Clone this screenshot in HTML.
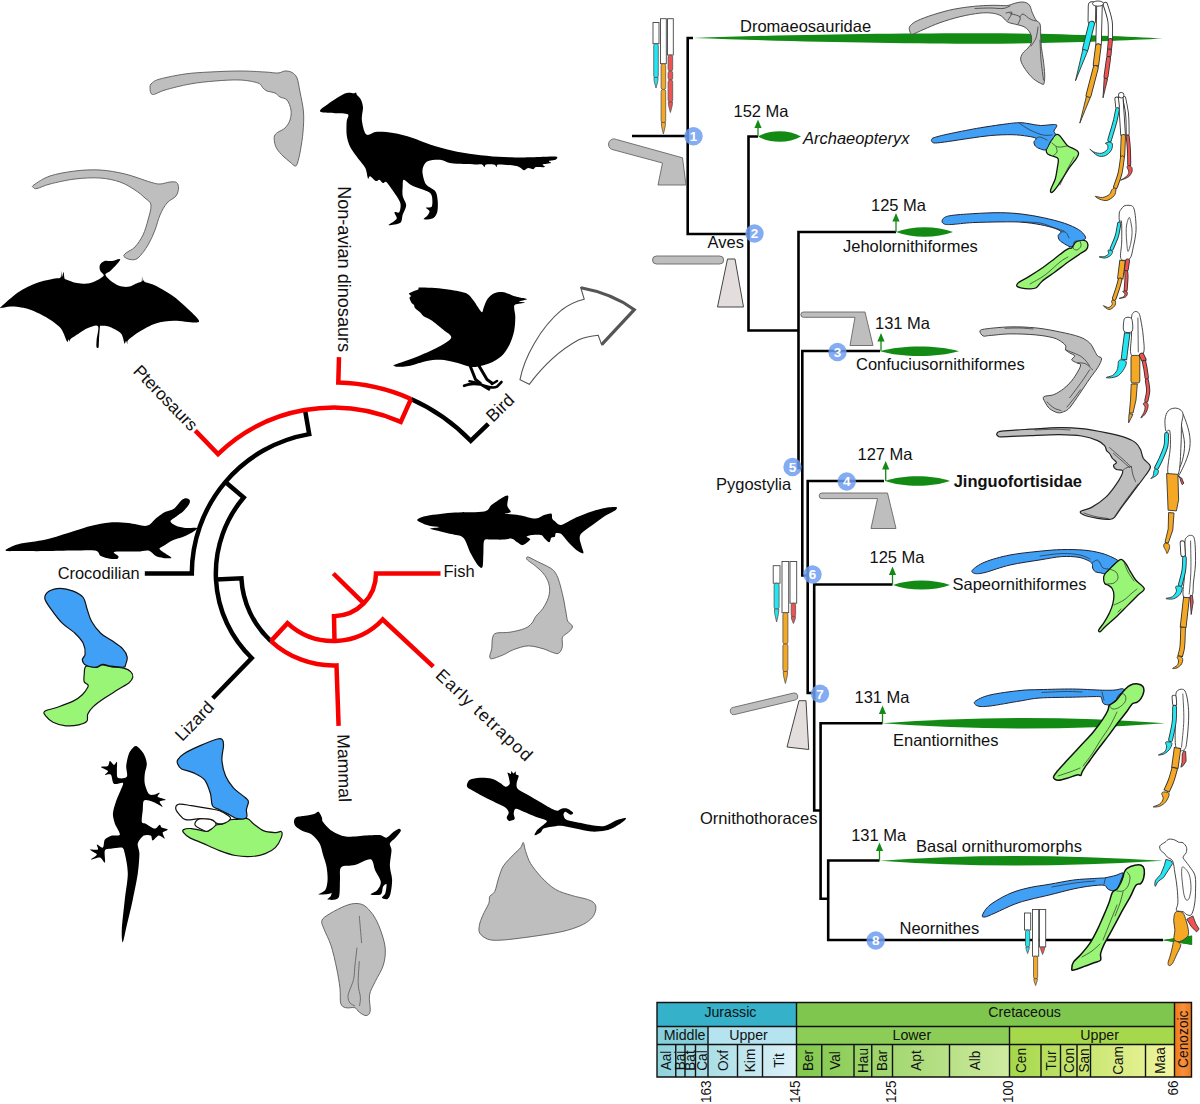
<!DOCTYPE html><html><head><meta charset="utf-8"><title>Figure</title>
<style>html,body{margin:0;padding:0;background:#fff}svg{display:block}text{font-family:"Liberation Sans",Arial,sans-serif;fill:#111}</style></head><body>
<svg width="1200" height="1104" viewBox="0 0 1200 1104">
<rect width="1200" height="1104" fill="#fff"/>
<g id="timescale">
<defs><linearGradient id="gJ" x1="0" x2="1"><stop offset="0" stop-color="#8ED3DC"/><stop offset="1" stop-color="#DDF1F8"/></linearGradient><linearGradient id="gKl" x1="0" x2="1"><stop offset="0" stop-color="#80C84C"/><stop offset="1" stop-color="#CFEBA0"/></linearGradient><linearGradient id="gKu" x1="0" x2="1"><stop offset="0" stop-color="#A4D84A"/><stop offset="1" stop-color="#F2F6A0"/></linearGradient><linearGradient id="gC" x1="0" x2="1"><stop offset="0" stop-color="#F07A10"/><stop offset="0.5" stop-color="#F79040"/><stop offset="1" stop-color="#EE7A18"/></linearGradient></defs>
<rect x="657" y="1002.5" width="139.5" height="24.0" fill="#35B2CA"/>
<rect x="796.5" y="1002.5" width="378.0" height="24.0" fill="#7FC64E"/>
<rect x="657" y="1026.5" width="51" height="18.0" fill="#85D0DA"/>
<rect x="708" y="1026.5" width="88.5" height="18.0" fill="#B5E3EF"/>
<rect x="796.5" y="1026.5" width="213.0" height="18.0" fill="#8CCD57"/>
<rect x="1009.5" y="1026.5" width="165.0" height="18.0" fill="#A6D84C"/>
<rect x="657" y="1044.5" width="139.5" height="32.5" fill="url(#gJ)"/>
<rect x="796.5" y="1044.5" width="213.0" height="32.5" fill="url(#gKl)"/>
<rect x="1009.5" y="1044.5" width="165.0" height="32.5" fill="url(#gKu)"/>
<rect x="1174.5" y="1002.5" width="17.0" height="74.5" fill="url(#gC)"/>
<path d="M657 1002.5 H1191.5 V1077 H657 ZM657 1026.5 H1174.5M657 1044.5 H1174.5M796.5 1002.5 V1077M1174.5 1002.5 V1077M708 1026.5 V1077M1009.5 1026.5 V1077M675.75 1044.5 V1077M685 1044.5 V1077M695.5 1044.5 V1077M737.5 1044.5 V1077M762.5 1044.5 V1077M821.75 1044.5 V1077M854 1044.5 V1077M871.75 1044.5 V1077M892.5 1044.5 V1077M949.5 1044.5 V1077M1041 1044.5 V1077M1060.5 1044.5 V1077M1077 1044.5 V1077M1090.5 1044.5 V1077M1145.5 1044.5 V1077" fill="none" stroke="#111" stroke-width="1.4"/>
<text x="730.4" y="1017" font-size="14.2" text-anchor="middle" >Jurassic</text>
<text x="1024.6" y="1017" font-size="14.2" text-anchor="middle" >Cretaceous</text>
<text x="684.6" y="1039.5" font-size="14.2" text-anchor="middle" >Middle</text>
<text x="748.5" y="1039.5" font-size="14.2" text-anchor="middle" >Upper</text>
<text x="911.9" y="1039.5" font-size="14.2" text-anchor="middle" >Lower</text>
<text x="1099.6" y="1039.5" font-size="14.2" text-anchor="middle" >Upper</text>
<text transform="translate(671.3 1060.5) rotate(-90) scale(0.925 1)" font-size="14.7" text-anchor="middle">Aal</text>
<text transform="translate(685.3 1060.5) rotate(-90) scale(0.925 1)" font-size="14.7" text-anchor="middle">Baj</text>
<text transform="translate(695.1 1060.5) rotate(-90) scale(0.925 1)" font-size="14.7" text-anchor="middle">Bat</text>
<text transform="translate(706.6 1060.5) rotate(-90) scale(0.925 1)" font-size="14.7" text-anchor="middle">Cal</text>
<text transform="translate(727.6 1060.5) rotate(-90) scale(0.925 1)" font-size="14.7" text-anchor="middle">Oxf</text>
<text transform="translate(754.9 1060.5) rotate(-90) scale(0.925 1)" font-size="14.7" text-anchor="middle">Kim</text>
<text transform="translate(784.4 1060.5) rotate(-90) scale(0.925 1)" font-size="14.7" text-anchor="middle">Tit</text>
<text transform="translate(812.5 1060.5) rotate(-90) scale(0.925 1)" font-size="14.7" text-anchor="middle">Ber</text>
<text transform="translate(839.8 1060.5) rotate(-90) scale(0.925 1)" font-size="14.7" text-anchor="middle">Val</text>
<text transform="translate(867.8 1060.5) rotate(-90) scale(0.925 1)" font-size="14.7" text-anchor="middle">Hau</text>
<text transform="translate(887 1060.5) rotate(-90) scale(0.925 1)" font-size="14.7" text-anchor="middle">Bar</text>
<text transform="translate(920.9 1060.5) rotate(-90) scale(0.925 1)" font-size="14.7" text-anchor="middle">Apt</text>
<text transform="translate(980.4 1060.5) rotate(-90) scale(0.925 1)" font-size="14.7" text-anchor="middle">Alb</text>
<text transform="translate(1025.7 1060.5) rotate(-90) scale(0.925 1)" font-size="14.7" text-anchor="middle">Cen</text>
<text transform="translate(1055.7 1060.5) rotate(-90) scale(0.925 1)" font-size="14.7" text-anchor="middle">Tur</text>
<text transform="translate(1073.7 1060.5) rotate(-90) scale(0.925 1)" font-size="14.7" text-anchor="middle">Con</text>
<text transform="translate(1088.7 1060.5) rotate(-90) scale(0.925 1)" font-size="14.7" text-anchor="middle">San</text>
<text transform="translate(1122.9 1060.5) rotate(-90) scale(0.925 1)" font-size="14.7" text-anchor="middle">Cam</text>
<text transform="translate(1164.9 1060.5) rotate(-90) scale(0.925 1)" font-size="14.7" text-anchor="middle">Maa</text>
<text transform="translate(1188.3 1039.2) rotate(-90) scale(0.925 1)" font-size="14.9" text-anchor="middle">Cenozoic</text>
<text transform="translate(711 1080.5) rotate(-90) scale(0.925 1)" font-size="14.6" text-anchor="end">163</text>
<text transform="translate(799.5 1080.5) rotate(-90) scale(0.925 1)" font-size="14.6" text-anchor="end">145</text>
<text transform="translate(895.5 1080.5) rotate(-90) scale(0.925 1)" font-size="14.6" text-anchor="end">125</text>
<text transform="translate(1012.5 1080.5) rotate(-90) scale(0.925 1)" font-size="14.6" text-anchor="end">100</text>
<text transform="translate(1177.5 1080.5) rotate(-90) scale(0.925 1)" font-size="14.6" text-anchor="end">66</text>
</g>
<g id="clado">
<path d="M632 136H687.7 M693 38H687.7V234H748.5 M758 136.5H748.5V330.5H798.5 M896 232H798.5V468H802.3 M880 351H802.3V575.5H807.7 M884 481H807.7V693H814.2 M892.5 584.5H814.2V810.5H820.6 M882.5 723.2H820.6V898.7H828.2 M879.5 860.5H828.2V940H1163" fill="none" stroke="#000" stroke-width="2.6" stroke-linejoin="miter" stroke-linecap="butt"/>
<path d="M693 38 C790 34.5 900 33.3 980 33.3 C1060 33.4 1125 36.5 1163 38.5 C1125 40.5 1060 43.6 980 43.7 C900 43.7 790 41.5 693 38Z" fill="#128A14"/>
<path d="M758 136.5 C770 129.5 789 129.5 801 136.5 C789 143.5 770 143.5 758 136.5Z" fill="#128A14"/>
<path d="M896 232 C912 225.7 937 225.7 953 232 C937 238.3 912 238.3 896 232Z" fill="#128A14"/>
<path d="M880 351.3 C902.1 345 936.9 345 959 351.3 C936.9 357.6 902.1 357.6 880 351.3Z" fill="#128A14"/>
<path d="M885 481 C903.2 474.7 931.8 474.7 950 481 C931.8 487.3 903.2 487.3 885 481Z" fill="#128A14"/>
<path d="M893 585 C909 579 934 579 950 585 C934 591 909 591 893 585Z" fill="#128A14"/>
<path d="M882 723.3 Q1023.5 712.8 1165 723.3 Q1023.5 733.8 882 723.3Z" fill="#128A14"/>
<path d="M880 860.7 Q1007.4 851.2 1163 860.7 Q1007.4 870.2 880 860.7Z" fill="#128A14"/>
<path d="M1162 940 L1192 935.5 V945Z" fill="#128A14"/>
<path d="M758 136 V123.5" stroke="#128A14" stroke-width="1.3" fill="none"/><path d="M758 119.5 L754.4 128 L761.6 128Z" fill="#128A14"/>
<path d="M896 232 V217" stroke="#128A14" stroke-width="1.3" fill="none"/><path d="M896 213 L892.4 221.5 L899.6 221.5Z" fill="#128A14"/>
<path d="M881 351 V337" stroke="#128A14" stroke-width="1.3" fill="none"/><path d="M881 333 L877.4 341.5 L884.6 341.5Z" fill="#128A14"/>
<path d="M885.7 481 V465" stroke="#128A14" stroke-width="1.3" fill="none"/><path d="M885.7 461 L882.1 469.5 L889.3 469.5Z" fill="#128A14"/>
<path d="M892.5 584.5 V570.5" stroke="#128A14" stroke-width="1.3" fill="none"/><path d="M892.5 566.5 L888.9 575 L896.1 575Z" fill="#128A14"/>
<path d="M882.5 723 V709.5" stroke="#128A14" stroke-width="1.3" fill="none"/><path d="M882.5 705.5 L878.9 714 L886.1 714Z" fill="#128A14"/>
<path d="M879.5 860.5 V846.5" stroke="#128A14" stroke-width="1.3" fill="none"/><path d="M879.5 842.5 L875.9 851 L883.1 851Z" fill="#128A14"/>
<circle cx="693.5" cy="136.2" r="9.2" fill="#6E9DF0" fill-opacity="0.85"/><text x="693.5" y="141" font-size="13.5" font-weight="bold" text-anchor="middle" style="fill:#fff">1</text>
<circle cx="754.5" cy="233.5" r="9.2" fill="#6E9DF0" fill-opacity="0.85"/><text x="754.5" y="238.3" font-size="13.5" font-weight="bold" text-anchor="middle" style="fill:#fff">2</text>
<circle cx="837.5" cy="352" r="9.2" fill="#6E9DF0" fill-opacity="0.85"/><text x="837.5" y="356.8" font-size="13.5" font-weight="bold" text-anchor="middle" style="fill:#fff">3</text>
<circle cx="846.7" cy="481.5" r="9.2" fill="#6E9DF0" fill-opacity="0.85"/><text x="846.7" y="486.3" font-size="13.5" font-weight="bold" text-anchor="middle" style="fill:#fff">4</text>
<circle cx="792.5" cy="467" r="9.2" fill="#6E9DF0" fill-opacity="0.85"/><text x="792.5" y="471.8" font-size="13.5" font-weight="bold" text-anchor="middle" style="fill:#fff">5</text>
<circle cx="812.5" cy="574.5" r="9.2" fill="#6E9DF0" fill-opacity="0.85"/><text x="812.5" y="579.3" font-size="13.5" font-weight="bold" text-anchor="middle" style="fill:#fff">6</text>
<circle cx="820" cy="693.7" r="9.2" fill="#6E9DF0" fill-opacity="0.85"/><text x="820" y="698.5" font-size="13.5" font-weight="bold" text-anchor="middle" style="fill:#fff">7</text>
<circle cx="875.7" cy="940.5" r="9.2" fill="#6E9DF0" fill-opacity="0.85"/><text x="875.7" y="945.3" font-size="13.5" font-weight="bold" text-anchor="middle" style="fill:#fff">8</text>
<text x="740" y="32.2" font-size="16.5" text-anchor="start" >Dromaeosauridae</text>
<text x="733.5" y="116.5" font-size="16.5" text-anchor="start" >152 Ma</text>
<text x="803" y="143.7" font-size="16.5" text-anchor="start" font-style="italic">Archaeopteryx</text>
<text x="707.5" y="247.5" font-size="16.5" text-anchor="start" >Aves</text>
<text x="871" y="210.5" font-size="16.5" text-anchor="start" >125 Ma</text>
<text x="843" y="251.5" font-size="16.5" text-anchor="start" >Jeholornithiformes</text>
<text x="875" y="329" font-size="16.5" text-anchor="start" >131 Ma</text>
<text x="856" y="370" font-size="16.5" text-anchor="start" >Confuciusornithiformes</text>
<text x="857.5" y="460" font-size="16.5" text-anchor="start" >127 Ma</text>
<text x="953.7" y="486.5" font-size="16.5" text-anchor="start" font-weight="bold">Jinguofortisidae</text>
<text x="716" y="489.7" font-size="16.5" text-anchor="start" >Pygostylia</text>
<text x="869.5" y="562.5" font-size="16.5" text-anchor="start" >125 Ma</text>
<text x="952.5" y="589.5" font-size="16.5" text-anchor="start" >Sapeornithiformes</text>
<text x="854.5" y="702.7" font-size="16.5" text-anchor="start" >131 Ma</text>
<text x="893" y="745.7" font-size="16.5" text-anchor="start" >Enantiornithes</text>
<text x="700" y="823.7" font-size="16.5" text-anchor="start" >Ornithothoraces</text>
<text x="851.2" y="841.2" font-size="16.5" text-anchor="start" >131 Ma</text>
<text x="916" y="852" font-size="16.5" text-anchor="start" >Basal ornithuromorphs</text>
<text x="899.5" y="934.2" font-size="16.5" text-anchor="start" >Neornithes</text>
</g>
<g id="schem">
<rect x="653" y="22.5" width="6" height="21.2" fill="#fff" stroke="#444" stroke-width="0.9"/>
<rect x="653.7" y="43.7" width="4.6" height="33.8" rx="2" fill="#22E6F2" stroke="#555" stroke-width="0.8"/>
<path d="M653.9 77.5 L658.1 77.5 L657.8 81.2 L656 88 L654.2 81.2Z" fill="#22E6F2" stroke="#555" stroke-width="0.8"/>
<rect x="660.5" y="18.7" width="5.8" height="45" fill="#fff" stroke="#444" stroke-width="0.9"/>
<rect x="661.1" y="63.7" width="4.6" height="25.8" rx="2" fill="#F5A823" stroke="#555" stroke-width="0.8"/>
<rect x="661.1" y="89.5" width="4.6" height="33" rx="2" fill="#F5A823" stroke="#555" stroke-width="0.8"/>
<path d="M661.3 122.5 L665.5 122.5 L665.2 126.5 L663.4 134 L661.6 126.5Z" fill="#F5A823" stroke="#555" stroke-width="0.8"/>
<rect x="667.5" y="18.7" width="5.8" height="36.3" fill="#fff" stroke="#444" stroke-width="0.9"/>
<rect x="668.1" y="55" width="4.6" height="16" rx="2" fill="#F05252" stroke="#555" stroke-width="0.8"/>
<rect x="668.1" y="71" width="4.6" height="9" rx="2" fill="#F05252" stroke="#555" stroke-width="0.8"/>
<rect x="668.1" y="80" width="4.6" height="22" rx="2" fill="#F05252" stroke="#555" stroke-width="0.8"/>
<path d="M668.3 102 L672.5 102 L672.2 105.7 L670.4 112.5 L668.6 105.7Z" fill="#F05252" stroke="#555" stroke-width="0.8"/>
<rect x="773.2" y="565.7" width="6.8" height="17.5" fill="#fff" stroke="#444" stroke-width="0.9"/>
<rect x="774.1" y="583.2" width="5" height="25.8" rx="2" fill="#22E6F2" stroke="#555" stroke-width="0.8"/>
<path d="M774.4 609 L778.8 609 L778.5 613.5 L776.6 622 L774.7 613.5Z" fill="#22E6F2" stroke="#555" stroke-width="0.8"/>
<rect x="782" y="561.5" width="6.7" height="51.2" fill="#fff" stroke="#444" stroke-width="0.9"/>
<rect x="782.9" y="612.7" width="5" height="31.3" rx="2" fill="#F5A823" stroke="#555" stroke-width="0.8"/>
<rect x="782.9" y="644" width="5" height="27.5" rx="2" fill="#F5A823" stroke="#555" stroke-width="0.8"/>
<path d="M783.2 671.5 L787.6 671.5 L787.3 675.7 L785.4 683.5 L783.5 675.7Z" fill="#F5A823" stroke="#555" stroke-width="0.8"/>
<rect x="790" y="561.5" width="6.7" height="41.7" fill="#fff" stroke="#444" stroke-width="0.9"/>
<rect x="791.2" y="603.2" width="4.4" height="13.3" rx="2" fill="#F05252" stroke="#555" stroke-width="0.8"/>
<path d="M791.3 616.5 L795.5 616.5 L795.2 619 L793.4 623.5 L791.6 619Z" fill="#F05252" stroke="#555" stroke-width="0.8"/>
<rect x="1024.5" y="913" width="6.2" height="17" fill="#fff" stroke="#444" stroke-width="0.9"/>
<rect x="1025.5" y="930" width="4.2" height="17" rx="2" fill="#22E6F2" stroke="#555" stroke-width="0.8"/>
<path d="M1025.9 947 L1029.3 947 L1029 949.3 L1027.6 953.5 L1026.2 949.3Z" fill="#22E6F2" stroke="#555" stroke-width="0.8"/>
<rect x="1032.5" y="909.5" width="6.2" height="46.7" fill="#fff" stroke="#444" stroke-width="0.9"/>
<rect x="1033.5" y="956.2" width="4.2" height="22.5" rx="2" fill="#F5A823" stroke="#555" stroke-width="0.8"/>
<path d="M1033.8 978.7 L1037.4 978.7 L1037.1 981.1 L1035.6 985.5 L1034.1 981.1Z" fill="#F5A823" stroke="#555" stroke-width="0.8"/>
<rect x="1039.5" y="909.5" width="6.2" height="37.5" fill="#fff" stroke="#444" stroke-width="0.9"/>
<path d="M1040.5 947 L1044.7 947 L1044.4 949.6 L1042.6 954.5 L1040.8 949.6Z" fill="#F05252" stroke="#555" stroke-width="0.8"/>
<path d="M616.5 139.5 L682.5 157.8 L686 185 H658 L662.5 163 L611.5 149.3 A5.1 5.1 0 0 1 616.5 139.5Z" fill="#BEBEBE" stroke="#666" stroke-width="0.9" stroke-linejoin="round"/>
<rect x="652.5" y="256" width="71.2" height="8" rx="4" fill="#BEBEBE" stroke="#666" stroke-width="0.9" stroke-linejoin="round"/>
<path d="M727.5 259 H735 L743.5 307 H717.5Z" fill="#E4DDDD" stroke="#444" stroke-width="1"/>
<path d="M803.5 312 H865 L873 345.5 H850 L855 317.3 H803.5 A2.6 2.6 0 0 1 803.5 312Z" fill="#BEBEBE" stroke="#666" stroke-width="0.9" stroke-linejoin="round"/>
<path d="M822 493 H887.5 L896 528.5 H871 L877.5 498.6 H822 A2.8 2.8 0 0 1 822 493Z" fill="#BEBEBE" stroke="#666" stroke-width="0.9" stroke-linejoin="round"/>
<path d="M733.2 707.4 L793.7 693 A3.6 3.6 0 0 1 795.3 700 L734.8 714.5 A3.6 3.6 0 0 1 733.2 707.4Z" fill="#BEBEBE" stroke="#666" stroke-width="0.9" stroke-linejoin="round"/>
<path d="M799 700.7 H806 L808.7 749.5 L787 747Z" fill="#E4DDDD" stroke="#444" stroke-width="1"/>
</g>
<g id="ctree" fill="none" stroke-width="4.5" stroke-linejoin="miter" stroke-miterlimit="6">
<path d="M270.9 641.1 A92 92 0 0 1 241.4 578.3 L216 579.6 M212.8 698.2 L251.7 658 A117.5 117.5 0 0 1 243.7 497.5 L225.4 482 M144.8 573.5 L191.8 573.5 A141.5 141.5 0 0 1 309.2 434.1 L305 409.9 M411 399 A191 191 0 0 1 470.7 440.8 L488.3 423.8" stroke="#000"/>
<path d="M333.3 573.5 L363.8 603.4 M440.5 573.5 L376 573.5 A42.7 42.7 0 0 1 334 616.2 L334.5 641 M433.3 666.7 L382.7 619.5 A67.5 67.5 0 0 1 287.5 623.1 L270.9 641.1 M270.9 641.1 A92 92 0 0 0 336.5 665.4 L338.6 725.9 M195.3 430.6 L218 454.1 A166 166 0 0 1 400.8 421.9 L411 399 M411 399 A191 191 0 0 0 338.3 382.6 L339 357.1" stroke="#F80000"/>
</g>
<text x="443.5" y="576.8" font-size="16.5" text-anchor="start" >Fish</text>
<text x="139.7" y="578.6" font-size="16.4" text-anchor="end" >Crocodilian</text>
<text transform="translate(338.4 352.1) rotate(90)" font-size="18.1" text-anchor="end" >Non-avian dinosaurs</text>
<text transform="translate(337.3 734.3) rotate(88.6)" font-size="17.7" text-anchor="start" >Mammal</text>
<text transform="translate(190.4 432) rotate(46)" font-size="17.3" text-anchor="end" >Pterosaurs</text>
<text transform="translate(215 708.2) rotate(-46)" font-size="17.3" text-anchor="end" >Lizard</text>
<text transform="translate(493 422.9) rotate(-44)" font-size="17.5" text-anchor="start" >Bird</text>
<text transform="translate(434.5 676.4) rotate(43.3)" font-size="17.5" text-anchor="start" letter-spacing="1.25">Early tetrapod</text>
<g id="left">
<path d="M150 87.5 C149.9 85.6 150.3 84.4 152 83 C153.7 81.6 154.5 80.5 160 79 C165.5 77.5 176.7 75.2 185 74 C193.3 72.8 200.8 72.5 210 72 C219.2 71.5 230.8 71 240 71 C249.2 71 258.7 71.7 265 72 C271.3 72.3 274.7 73.2 278 73 C281.3 72.8 282.7 71.1 285 71 C287.3 70.9 290 71.3 292 72.5 C294 73.7 295.7 74.8 297 78 C298.3 81.2 298.9 86.3 300 92 C301.1 97.7 303 105.3 303.5 112 C304 118.7 303.5 125.7 303 132 C302.5 138.3 301.4 144.8 300.5 150 C299.6 155.2 298.4 160.3 297.5 163 C296.6 165.7 296.2 166.2 295 166 C293.8 165.8 292 163.7 290 162 C288 160.3 285.2 158.2 283 156 C280.8 153.8 278.4 151.3 277 149 C275.6 146.7 274.9 144.2 274.5 142 C274.1 139.8 274 137.6 274.5 136 C275 134.4 275.8 133.8 277.5 132.5 C279.2 131.2 282.9 130.1 285 128 C287.1 125.9 289 123 290 120 C291 117 291.5 113.3 291 110 C290.5 106.7 288.8 102.2 287 100 C285.2 97.8 282 98.2 280 97 C278 95.8 277.2 94 275 93 C272.8 92 269 91.8 267 91 C265 90.2 264.5 89.3 263 88 C261.5 86.7 261.8 84.3 258 83 C254.2 81.7 247.2 80.3 240 80 C232.8 79.7 223.3 80.3 215 81 C206.7 81.7 198.3 82.5 190 84 C181.7 85.5 171.2 88.2 165 90 C158.8 91.8 155 94.9 152.5 94.5 C150 94.1 150.1 89.4 150 87.5Z" fill="#BEBEBE" stroke="#5a5a5a" stroke-width="0.9" stroke-linejoin="round"/>
<path d="M33.8 185 C36.5 183.1 43.1 178.3 50 176 C56.9 173.7 66.7 172 75 171 C83.3 170 91.7 169.5 100 170 C108.3 170.5 116.7 172 125 174 C133.3 176 144.2 180.3 150 182 C155.8 183.7 156.7 184 160 184 C163.3 184 167.2 182.2 170 182 C172.8 181.8 175.1 181.5 176.5 182.5 C177.9 183.5 178.6 185.8 178.5 188 C178.4 190.2 177.9 193.5 176 196 C174.1 198.5 169.7 199.8 167 203 C164.3 206.2 162 210.5 160 215 C158 219.5 157 225 155 230 C153 235 150.8 240.3 148 245 C145.2 249.7 141 255.6 138 258 C135 260.4 132.3 259.8 130 259.5 C127.7 259.2 124.7 257.6 124 256.5 C123.3 255.4 124.2 254.6 126 253 C127.8 251.4 132.2 250 135 247 C137.8 244 140.8 239.5 143 235 C145.2 230.5 146.7 225 148 220 C149.3 215 151.5 208.7 151 205 C150.5 201.3 147.7 200.5 145 198 C142.3 195.5 139.2 192.7 135 190 C130.8 187.3 125.8 184 120 182 C114.2 180 107.5 178.5 100 178 C92.5 177.5 83.3 178 75 179 C66.7 180 56.3 182.4 50 184 C43.7 185.6 39.8 187.9 37 188.5 C34.2 189.1 34 188.1 33.5 187.5 C33 186.9 31 186.9 33.8 185Z" fill="#BEBEBE" stroke="#5a5a5a" stroke-width="0.9" stroke-linejoin="round"/>
<path d="M528.3 557 C530.1 557.5 533.8 559.8 537.5 561.6 C541.2 563.4 547.2 566 550.3 568 C553.3 570 554.3 571 555.8 573.5 C557.3 576 558.3 578.7 559.5 582.7 C560.7 586.7 562.1 592.4 563.2 597.3 C564.3 602.2 565.1 608 565.9 612 C566.7 616 566.7 618.9 567.8 621.2 C568.9 623.5 571.8 624.3 572.3 625.8 C572.8 627.3 571.6 628.9 570.5 630.3 C569.4 631.7 567.3 632.8 565.9 634 C564.5 635.2 562.9 635.6 562.3 637.7 C561.7 639.8 562.9 644.2 562.3 646.8 C561.7 649.4 560.3 652.4 558.6 653.3 C556.9 654.2 554.8 653.1 552.2 652.3 C549.6 651.5 547 649.8 543 648.7 C539 647.6 533.2 645.8 528.3 645.9 C523.4 646 518 648.1 513.7 649.6 C509.4 651.1 506.4 653.6 502.7 655.1 C499 656.6 493.8 658.6 491.7 658.8 C489.6 658.9 489.8 657.7 489.8 656 C489.8 654.3 491.2 651.8 491.7 648.7 C492.2 645.7 491.8 640.3 492.6 637.7 C493.4 635.1 493.4 634 496.3 633.1 C499.2 632.2 505.3 633 510 632.2 C514.7 631.4 521 630 524.7 628.5 C528.4 627 530.2 625 532 623 C533.8 621 533.9 619.1 535.7 616.6 C537.5 614.1 540.9 611.5 543 608.3 C545.1 605.1 547.4 601 548.5 597.3 C549.6 593.6 550 590 549.4 586.3 C548.8 582.6 547.1 578.6 544.8 575.3 C542.5 571.9 538.5 568.6 535.7 566.2 C533 563.8 529.8 562 528.3 560.7 C526.8 559.4 526.5 559.1 526.5 558.5 C526.5 557.9 526.5 556.5 528.3 557Z" fill="#BEBEBE" stroke="#5a5a5a" stroke-width="0.9" stroke-linejoin="round"/>
<path d="M321.9 920.5 C322.8 917.9 325.8 916.2 329.8 913.7 C333.8 911.2 341.2 907.4 345.7 905.7 C350.2 904 353.6 903.3 357 903.5 C360.4 903.7 363.1 904.4 366.1 906.9 C369.1 909.4 372.6 913.7 375.2 918.2 C377.8 922.7 380.2 928.8 381.9 934.1 C383.6 939.4 385.1 944.6 385.3 949.9 C385.5 955.2 384.8 960.5 383.1 965.8 C381.4 971.1 377.5 976.7 375.2 981.6 C372.9 986.5 370.3 990.3 369.5 995.2 C368.7 1000.1 370.8 1007.7 370.2 1011.1 C369.6 1014.5 367.9 1015.4 366.1 1015.6 C364.3 1015.8 361.2 1013.5 359.3 1012.2 C357.4 1010.9 357.1 1008.5 354.8 1007.7 C352.5 1007 348.1 1008.5 345.7 1007.7 C343.3 1007 341.6 1006.4 340.7 1003.2 C339.8 1000 340.7 994.3 340 988.4 C339.3 982.5 338.1 975.2 336.6 968 C335.1 960.8 333.1 951.8 331 945.4 C328.9 939 325.7 933.6 324.2 929.5 C322.7 925.4 321 923.1 321.9 920.5Z" fill="#BEBEBE" stroke="#5a5a5a" stroke-width="0.9" stroke-linejoin="round"/>
<path d="M523.3 842.6 C524.1 843.3 524.5 848.1 525.7 851.5 C526.9 855 528 859.2 530.6 863.5 C533.2 867.8 537.5 873.1 541.6 877.5 C545.8 881.8 550.5 886.4 555.5 889.4 C560.5 892.4 566.2 893.7 571.5 895.4 C576.8 897.1 583.6 898.1 587.4 899.4 C591.2 900.7 593 901.7 594.4 903.4 C595.8 905 596.1 907 595.8 909.3 C595.5 911.6 594.5 914.8 592.4 917.3 C590.3 919.8 587.5 922.1 583.4 924.3 C579.2 926.4 573.5 928.6 567.5 930.2 C561.5 931.9 555.6 932.9 547.6 934.2 C539.6 935.5 527.7 937.2 519.7 938.2 C511.7 939.2 505.1 940 499.8 940.2 C494.5 940.4 491.1 940.4 487.8 939.2 C484.5 938 481.2 935.5 479.8 933.2 C478.4 930.9 478.9 928.3 479.4 925.3 C479.9 922.3 481.2 919 482.8 915.3 C484.4 911.6 487.6 906.5 488.8 903.4 C490 900.2 488.8 898.4 489.8 896.4 C490.8 894.4 493.3 894.6 494.8 891.4 C496.3 888.2 497.3 881.8 498.8 877.5 C500.3 873.1 501.2 869.3 503.7 865.5 C506.2 861.7 510.9 857.5 513.7 854.5 C516.5 851.5 519.1 849.6 520.7 847.6 C522.3 845.6 522.5 841.9 523.3 842.6Z" fill="#BEBEBE" stroke="#5a5a5a" stroke-width="0.9" stroke-linejoin="round"/>
<path d="M359.3 915.9 C359.5 918.2 360.1 925.5 360.5 930 C360.9 934.5 361.4 940.9 361.6 943.1" fill="none" stroke="#5a5a5a" stroke-width="0.8"/>
<path d="M357 947.6 C356.7 950.5 355.6 959.7 355 965 C354.4 970.3 354.6 974.8 353.6 979.3 C352.6 983.8 349.9 989 349 992 C348.1 995 347.8 995.7 348 997.5 C348.2 999.3 348.8 1001.6 350 1003 C351.2 1004.4 354.2 1005.5 355 1006" fill="none" stroke="#5a5a5a" stroke-width="0.8"/>
<path d="M359.3 961.2 C359.1 965 358 977.9 358.2 983.9 C358.4 989.9 360.2 993.8 360.4 997.5 C360.6 1001.2 359.6 1004.6 359.5 1006" fill="none" stroke="#5a5a5a" stroke-width="0.8"/>
<path d="M0.9 307 C3.4 304.7 12.9 295.9 18.3 292.3 C23.7 288.7 31.2 285.1 36.7 283 C42.2 280.9 51.4 279.3 55 278.5 C58.6 277.7 59.6 278.7 60.5 277.6 C61.4 276.5 60.8 271.1 61 271 C61.2 270.9 61.6 276.9 62 277 C62.4 277.1 63.1 271.8 63.5 272 C63.9 272.2 64.1 277.1 64.5 278.2 C64.9 279.3 64.1 278.7 66 279.4 C67.9 280.1 73.7 282.4 77 283 C80.3 283.6 85 284 88 283.6 C91 283.2 94.8 281.3 97 280.3 C99.2 279.3 101.7 277.5 102.7 276.7 C103.7 275.9 104 275.8 103.6 274.8 C103.2 273.8 100.5 271.8 100 270.3 C99.5 268.8 99.3 266.2 100 264.8 C100.7 263.4 102.7 261.6 104.5 261 C106.3 260.4 109.6 261.3 111.8 261 C114 260.7 117.8 259 119 258.9 C120.2 258.8 120.5 259.2 120 260.2 C119.5 261.2 117 264.1 115.5 265.7 C114 267.3 111.5 269.9 110 271.2 C108.5 272.5 105.4 273.1 105.4 274.5 C105.4 275.9 108 278.6 110 280.3 C112 282 116.3 284.8 119 285.8 C121.7 286.8 125.5 287.2 128.3 286.8 C131.1 286.4 135.5 283.8 137.5 283 C139.5 282.2 140.8 282.5 141.5 281.5 C142.2 280.5 141.8 276.5 142 276.5 C142.2 276.5 142.5 281.2 142.8 281.3 C143.1 281.4 143.6 277 143.8 277 C144 277 142.4 280.3 144.2 281.6 C146 282.9 151.3 283.5 155.8 285.8 C160.3 288.1 168.8 292.9 174 296.8 C179.2 300.7 186.9 307.9 190.7 311.5 C194.4 315.1 198.5 319.1 199 320.7 C199.5 322.3 198.1 322.5 194.3 322.5 C190.6 322.5 179.8 320.6 174 320.7 C168.2 320.8 161 321.8 155.8 323.4 C150.6 325 143.4 329.2 139.3 331.7 C135.2 334.2 130.1 338.2 128.3 340 C126.5 341.8 127.8 343.9 127.5 344 C127.2 344.1 126.5 341.1 126 341 C125.5 340.9 125.2 344.6 124.5 343.5 C123.8 342.4 123.2 336 121 333.5 C118.8 331 113 328.2 110 327 C107 325.8 102.3 325.9 100.8 325.8 C99.3 325.7 100.3 324.1 100 326.2 C99.7 328.3 99.2 336.8 99 340 C98.8 343.2 98.9 346.4 98.5 347.5 C98.1 348.6 96.8 348.1 96.5 347 C96.2 345.9 96.4 343.1 96.6 340 C96.8 336.9 99.3 328 98 326.2 C96.7 324.4 90.9 326.9 88 328 C85.1 329.1 81.4 331.9 78.8 333.5 C76.2 335.1 71.9 337.8 70.6 339 C69.3 340.2 70.3 341.6 70 341.7 C69.7 341.8 69 339.5 68.5 339.5 C68 339.5 68.2 343.2 67 341.5 C65.8 339.8 63.7 331.7 60.5 328 C57.3 324.3 50.8 319.9 45.8 317 C40.8 314.1 32.7 310.3 27.5 308.7 C22.3 307.1 14.9 306.5 11 306.4 C7.1 306.3 3.3 307.7 1.8 307.8 C0.3 307.9 -1.6 309.3 0.9 307Z" fill="#000"/>
<path d="M320.5 109.7 C322.3 107.7 331.4 101.6 335 99.2 C338.6 96.8 342.2 94.8 344.3 93.8 C346.4 92.8 347.6 92.9 349 92.8 C350.4 92.7 352.6 93.3 353.7 93.3 C354.8 93.3 355.5 92.2 356 92.5 C356.5 92.8 356.3 94 357 95 C357.7 96 359.8 97.4 360.7 99.2 C361.6 101 362.8 104.3 363 107.3 C363.2 110.3 361.6 115.5 361.8 119 C362 122.5 363.3 128.3 364.2 130.7 C365.1 133.1 365.8 134.7 367.7 134.9 C369.6 135.1 373.2 132.1 377 131.8 C380.8 131.5 388.1 132.1 393.3 133 C398.6 133.9 406.4 135.9 412 137.7 C417.6 139.5 424.7 142.8 430.7 144.7 C436.7 146.6 445.1 149 451.7 150.5 C458.3 152 468 153.6 475 154.5 C482 155.4 491.3 156.4 498.3 156.8 C505.3 157.2 514.7 157.5 521.7 157.5 C528.7 157.5 539.8 156.9 545 156.8 C550.2 156.7 555.1 156.4 556.7 156.8 C558.3 157.2 556.7 159.2 555.5 159.8 C554.3 160.4 549.7 160.5 549 161 C548.3 161.5 551.9 162.5 551 163 C550.1 163.5 543.6 163.9 542.7 164.5 C541.8 165.1 546 166.6 545 167 C544 167.4 537.8 166.7 536 167 C534.2 167.3 534.5 169 533.3 169.2 C532.1 169.3 529.4 167.8 528 168 C526.6 168.2 525.2 170.4 524 170.3 C522.8 170.2 521.4 168.2 520 167.5 C518.6 166.8 518 166.1 514.7 165.7 C511.4 165.2 501 164.3 498.3 164.5 C495.6 164.7 497.6 167 497 167 C496.4 167 495.6 164.9 494 164.5 C492.4 164.1 487.4 164.1 486 164.5 C484.6 164.9 485.1 167 484.5 167 C483.9 167 483.4 164.9 482 164.5 C480.6 164.1 479.5 164.7 475 164.5 C470.5 164.3 456.9 164 451.7 163.3 C446.4 162.6 443.5 160.1 440 159.8 C436.5 159.5 430.7 160.1 428.3 161 C425.9 161.9 424.6 163.9 423.7 165.7 C422.8 167.5 422.2 169.9 422.5 172.7 C422.8 175.5 424.1 181.5 426 184.3 C427.9 187.1 433.5 188.8 435.3 191.3 C437.1 193.8 437.4 197.5 437.7 200.7 C438 203.8 437.9 209.7 437.2 212.3 C436.5 214.9 435 217.1 433 218.2 C431 219.2 424.6 219.7 423.7 219.3 C422.8 218.9 426.3 217 427.2 215.8 C428.1 214.6 429.7 212.4 429.5 211.2 C429.3 210 425.7 208.4 426 207.7 C426.3 207 430.9 208.3 431.8 206.5 C432.7 204.7 432.5 198.3 431.8 196 C431.1 193.7 430.2 192.9 427.2 191.3 C424.2 189.7 415.5 187.2 412 185.5 C408.5 183.8 405.2 179.5 403.8 179.7 C402.4 179.9 402.9 184.3 402.7 186.7 C402.5 189.1 402.2 193.2 402.7 196 C403.2 198.8 406.2 202.5 406.2 205.3 C406.2 208.1 403.6 212.1 402.7 214.7 C401.8 217.3 402.4 221.2 400.3 222.8 C398.2 224.4 389.8 225.4 388.7 225.2 C387.6 225 392.1 222.8 393.3 221.7 C394.5 220.6 396.6 219.6 396.8 218.2 C397 216.8 394.1 213.2 394.5 212.3 C394.9 211.4 398.3 213.7 399.2 212.3 C400.1 210.9 401.2 206.2 400.3 203 C399.4 199.8 395.4 194.5 393.3 191.3 C391.2 188.2 387.8 183.2 386.3 182 C384.8 180.8 384.1 183.3 383 183 C381.9 182.7 380.4 180 379.3 179.7 C378.2 179.4 377.4 181.5 376 181 C374.6 180.5 371.2 176.6 370 176.2 C368.8 175.8 368.7 179.7 368 178.5 C367.3 177.3 366.8 171 365.3 168 C363.8 165 360.6 161.8 358.3 158.7 C356 155.5 351.9 150.5 350.2 147 C348.5 143.5 347.2 139.2 346.7 135.3 C346.2 131.4 346.5 124.5 346.7 121.3 C346.9 118.1 349.6 115.5 347.8 114.3 C346 113.1 338.7 113.5 335 113.2 C331.3 112.9 325.5 113 323.3 112.5 C321.1 112 318.7 111.7 320.5 109.7Z" fill="#000"/>
<path d="M527 299.2 C527.1 298.6 522.1 298 520 297.5 C517.9 297 515.4 296.5 513 295.7 C510.6 294.9 506.5 292.6 503.7 292.2 C500.9 291.8 496.8 292.2 494.3 293.3 C491.8 294.4 488.9 297.1 487.3 299.2 C485.7 301.3 484.7 305.4 483.8 307.3 C482.9 309.2 483.1 313.1 481.5 312 C479.9 310.9 475.6 303.1 473.3 300.3 C471 297.5 469.8 294.9 466.3 293.3 C462.8 291.7 454.7 290.6 450 289.8 C445.3 289 439.5 288.3 435 288 C430.5 287.7 422.2 287.3 419.7 287.5 C417.1 287.7 419.6 288.6 418 289.5 C416.4 290.4 410.2 292.3 409.2 293.3 C408.1 294.3 411 295.3 411 296 C411 296.7 409.4 297 409.5 298 C409.6 299 410.8 301.6 411.5 302.7 C412.2 303.8 413.5 304.2 414 305 C414.5 305.8 414.1 306.9 415 308 C415.9 309.1 418.3 310.7 419.7 312 C421.1 313.3 422.3 315.3 424 316.5 C425.7 317.7 428.4 318.2 431.3 320.2 C434.2 322.1 440 326.9 443 329.5 C446 332.1 451.9 335.1 451.2 337.7 C450.5 340.3 443.7 344 438.3 347 C432.9 350 421.5 354.9 415 357.5 C408.5 360.1 398.3 363.2 395.2 364.5 C392.1 365.8 394.2 365.7 394.5 366 C394.8 366.3 395.1 366.8 397.5 366.8 C399.9 366.8 405.9 366.6 410.3 365.7 C414.7 364.8 422.1 361.9 426.7 361 C431.3 360.1 436.5 359.6 440.7 359.8 C444.9 360 450.9 361.3 454.7 362.2 C458.5 363.1 463.7 365 466.3 365.7 C468.9 366.4 470.2 366.9 472 367 C473.8 367.1 475.3 367.1 478 366.5 C480.7 365.9 486.2 364.8 489.7 363.3 C493.2 361.8 498.3 359.1 501.3 356.3 C504.3 353.5 507.6 348.5 509.5 344.7 C511.4 340.9 513.3 334.9 514.2 330.7 C515.1 326.5 515.3 320 515.3 316.7 C515.3 313.4 514.2 310.3 514.2 308.5 C514.2 306.7 513.7 305.4 515.3 304.5 C516.9 303.6 524.1 303.1 524.7 302.7 C525.3 302.2 518.7 302 519 301.5 C519.3 301 526.9 299.8 527 299.2Z" fill="#000"/>
<path d="M6.4 549.3 C8.1 548.3 12.4 545.7 18.3 544.2 C24.2 542.7 37.5 541.5 45.8 539.6 C54 537.7 66.4 533.4 73.3 531.3 C80.2 529.2 86.2 527.1 91.7 525.8 C97.2 524.5 104.5 522.9 110 522.5 C115.5 522.1 122.8 522.6 128.3 523.1 C133.8 523.6 142.6 526.5 146.7 525.8 C150.8 525.1 153.1 520.6 155.8 518.5 C158.5 516.4 162.2 513.6 165 512.1 C167.8 510.6 171.7 510.2 174.2 508.4 C176.7 506.6 179.7 501.7 181.5 500.2 C183.3 498.7 184.9 498.3 186.1 498.3 C187.3 498.3 189.4 499.2 189.8 500.2 C190.2 501.2 189.8 503.2 188.8 504.8 C187.8 506.4 185.2 509.4 183.3 511.2 C181.4 513 177.9 515.2 176 516.7 C174.1 518.2 170.5 519.9 170.5 521.3 C170.5 522.7 173.8 524.8 176 525.8 C178.2 526.8 182 527.7 185.2 528 C188.3 528.3 195.9 527.4 197 528 C198.1 528.6 194.6 531 192.5 532.3 C190.4 533.6 186.3 535.6 183.3 536.8 C180.3 538 175 539.3 172.3 540.5 C169.6 541.7 166.9 543.8 165 545 C163.1 546.2 159.5 547.6 159.5 548.8 C159.5 550 163.2 551.9 165 553.3 C166.8 554.7 171.7 557.2 171.4 557.9 C171.1 558.6 165.5 558.2 163.2 557.9 C160.9 557.6 158 557.2 155.8 556.1 C153.6 555 151.2 551.3 148.5 550.6 C145.8 549.9 141.9 551.4 137.5 551.5 C133.1 551.6 122.8 551.4 119.2 551.5 C115.6 551.6 113.8 551.7 113.7 552.4 C113.6 553.1 117.8 555.1 118.3 556.1 C118.8 557.1 118.5 558.4 117.3 558.8 C116.1 559.2 112.5 559.2 110 558.8 C107.5 558.4 103 557.3 100.8 556.1 C98.6 554.9 99.4 551.4 95.3 550.6 C91.2 549.8 80.7 550.5 73.3 550.6 C65.9 550.7 54 551 45.8 551.1 C37.5 551.2 24.1 551.1 18.3 551.1 C12.5 551.1 9.1 551.4 7.3 551.1 C5.5 550.8 4.8 550.3 6.4 549.3Z" fill="#000"/>
<path d="M417.4 519.4 C418.5 518.4 421.9 516.8 427.5 515.8 C433.1 514.8 446.5 513.2 455 512.6 C463.5 512 478.8 512.7 484.3 511.5 C489.8 510.3 488.9 506.9 491.7 504.8 C494.5 502.7 500.2 498.7 502.7 497.4 C505.2 496.1 507.5 494.9 508.2 496.1 C508.9 497.3 506.9 503.3 507.3 505.7 C507.7 508.1 511.3 510.9 510.9 512.1 C510.5 513.3 503.3 513.1 504.5 513.6 C505.7 514.1 514.5 514.5 519.2 515.2 C523.9 515.9 531.9 518.6 535.7 518.5 C539.5 518.4 542.5 515.5 544.8 514.8 C547.1 514.1 550.2 513 551.3 513.6 C552.4 514.2 551.7 517.3 552.2 518.5 C552.7 519.7 553.5 520.3 554.9 521.3 C556.3 522.3 558.1 525.5 561.3 524.9 C564.5 524.3 571.3 519.7 576 517.6 C580.7 515.5 587.8 512.7 592.5 511.2 C597.2 509.7 603.6 508.1 607.2 507.5 C610.8 506.9 615.1 506.7 616.3 507.1 C617.5 507.5 617 509 615.4 510.3 C613.8 511.6 608.7 513.6 605.3 515.8 C601.9 518 596.1 522.3 592.5 524.9 C588.9 527.5 583.4 531.1 581.5 533.2 C579.6 535.3 579.7 536.8 579.7 538.7 C579.7 540.6 581 543.8 581.5 546 C582 548.2 584.1 552.7 583.3 553.3 C582.5 553.9 578.5 551.6 576 549.7 C573.5 547.8 569 542.8 566.8 540.5 C564.6 538.2 562.9 535.2 561.3 534.1 C559.6 533 556.8 532.8 555.8 533.2 C554.8 533.6 555.6 536.1 554.9 536.8 C554.2 537.5 552.1 537 551.3 537.8 C550.5 538.6 550.4 542.2 549.4 542.3 C548.4 542.4 546 539.8 544.8 538.7 C543.6 537.6 543.1 535.6 541.2 535 C539.3 534.4 534.2 534.7 532 535 C529.8 535.3 526.8 536.1 526.5 536.8 C526.2 537.5 530.8 538.4 530.2 539.6 C529.6 540.8 524.7 544.7 522.8 545.1 C520.9 545.5 518.9 543.3 517.3 542.3 C515.6 541.3 514 539.1 511.8 538.7 C509.6 538.3 505.7 539.5 502.7 539.6 C499.7 539.7 494.5 539.5 491.7 539.6 C488.9 539.7 485.5 538.4 484.3 540.5 C483.1 542.6 483.7 549.3 483.4 553.3 C483.1 557.3 483.3 565.3 482.5 567.1 C481.7 568.9 479.7 567.4 477.9 565.3 C476.1 563.2 472.8 557.4 470.6 553.3 C468.4 549.2 466.2 540.7 463.3 537.8 C460.4 534.9 455.3 535.2 451.3 534.1 C447.3 533 439.8 531.2 436.7 530.4 C433.6 529.6 429.9 529.1 430.3 528.6 C430.7 528.1 439.5 527.7 439.4 527.3 C439.2 526.9 432.2 526.6 429.3 525.8 C426.4 525 422 523.2 420.2 522.2 C418.4 521.2 416.3 520.4 417.4 519.4Z" fill="#000"/>
<path d="M136.8 746.3 C138.5 747.2 142.3 751.3 143.8 753.9 C145.3 756.5 146.7 760.9 146.8 763.9 C147 766.9 145.1 770.8 144.8 773.8 C144.5 776.8 144.2 780.8 144.8 783.8 C145.4 786.8 147.4 792.1 148.8 793.8 C150.1 795.4 152.1 794.9 153.7 794.8 C155.3 794.6 159.1 792.5 159.7 792.8 C160.3 793.1 156.8 795.8 157.7 796.8 C158.6 797.8 165.4 799 165.7 799.8 C166 800.5 160.1 800.7 159.7 801.7 C159.2 802.7 163.1 806.4 162.7 806.7 C162.2 807 158.6 804.6 156.7 803.7 C154.8 802.8 151.7 801.2 149.8 800.8 C147.8 800.3 144.8 799.4 143.8 800.8 C142.8 802.1 143.1 806.6 142.8 809.7 C142.5 812.8 141.4 819.6 141.8 821.7 C142.2 823.8 143.9 822.7 145.8 823.7 C147.7 824.7 152.6 828.5 154.7 828.6 C156.8 828.8 158.6 824.9 159.7 824.7 C160.8 824.6 160.5 826.9 161.7 827.6 C162.9 828.3 167.5 828.9 167.7 829.6 C167.8 830.4 163.1 831.2 162.7 832.6 C162.2 834 165.3 838.1 164.7 838.6 C164.1 839.1 160.5 835.3 158.7 835.6 C156.9 835.9 153.9 840.6 152.7 840.6 C151.5 840.6 152.1 836.4 150.8 835.6 C149.4 834.9 145.7 834.4 143.8 835.6 C141.9 836.8 138.5 840.9 137.8 843.6 C137.1 846.3 139.4 849.1 139.4 853.6 C139.4 858.1 138.8 866.6 137.8 873.5 C136.8 880.4 134.5 891.6 132.8 899.4 C131.2 907.2 128.3 918.9 126.8 925.3 C125.3 931.7 123.5 941.6 122.8 942.2 C122 942.8 121.5 935.7 121.8 929.3 C122.1 922.9 123.9 907.8 124.8 899.4 C125.7 891 127.8 880.4 127.8 873.5 C127.8 866.6 125.7 857.5 124.8 853.6 C123.9 849.7 123.7 848.4 121.8 847.6 C119.9 846.9 114.4 848.1 111.9 848.6 C109.4 849.1 106 848.5 104.9 850.6 C103.9 852.7 105.7 861.5 104.9 862.5 C104.2 863.5 102 858 99.9 857.5 C97.8 857 91.5 860 91 859.5 C90.5 859 97.1 856 96.9 854.5 C96.8 853 89.8 850.3 90 849.6 C90.2 848.9 96.9 850.4 97.9 849.6 C98.9 848.9 96.2 844.9 96.9 844.6 C97.7 844.3 101.7 848.4 102.9 847.6 C104.1 846.9 103.6 841.4 104.9 839.6 C106.2 837.8 109.7 836.4 111.9 835.6 C114.2 834.9 119.5 836.4 119.9 834.6 C120.4 832.8 116 826.8 114.9 823.7 C113.9 820.6 112.8 817 112.9 813.7 C113.1 810.4 114.7 805.3 115.9 801.7 C117.1 798.1 119.8 792.6 120.8 789.8 C121.9 787 123.9 783.7 122.8 782.8 C121.8 781.9 115.7 785 113.9 783.8 C112.1 782.6 112.2 776.1 110.9 774.8 C109.6 773.4 105.4 775.4 104.9 774.8 C104.5 774.2 108.5 772 107.9 770.9 C107.3 769.7 100.9 767.6 100.9 766.9 C100.9 766.2 106.6 766.8 107.9 765.9 C109.2 765 109 761 109.9 760.9 C110.8 760.8 112.9 764.8 113.9 764.9 C115 765 116.5 761.1 116.9 761.9 C117.4 762.6 116.8 767.5 116.9 769.9 C117.1 772.3 116.4 776.8 117.9 777.8 C119.4 778.8 125.6 778.6 126.8 776.8 C128 775 125.9 769.3 126.2 765.9 C126.5 762.5 127.8 756.6 128.8 753.9 C129.8 751.2 131.6 749 132.8 747.9 C134 746.8 135.2 745.4 136.8 746.3Z" fill="#000"/>
<path d="M294 821.9 C294 820.5 294.3 818.3 295.9 817.4 C297.5 816.5 302.2 816.3 304.9 815.8 C307.6 815.3 312 814.6 314 814 C316 813.4 317.3 811.2 318.5 811.7 C319.7 812.2 321.2 815.9 321.9 817.4 C322.6 818.9 321.5 819.9 323 821.9 C324.5 823.9 328.7 828.8 332.1 831 C335.5 833.2 340.6 835.9 345.7 836.6 C350.8 837.3 361 835.7 366.1 835.5 C371.2 835.3 376.6 834.8 379.7 835.1 C382.8 835.4 384.5 838.2 386.5 837.8 C388.5 837.3 391.4 833.5 393.3 832.1 C395.2 830.7 397.8 828.9 398.9 828.7 C400 828.5 401.3 829.6 400.8 831 C400.2 832.4 397.1 835.9 395.5 837.8 C393.9 839.7 390.5 841.5 389.9 843.4 C389.3 845.3 391.5 846.8 391.5 850.2 C391.5 853.6 389.8 861.7 389.9 866.1 C390 870.5 392 875.6 392.1 879.7 C392.2 883.8 391.3 890.4 390.6 893.3 C389.9 896.2 388.9 898.2 387.6 898.9 C386.3 899.6 382.2 898.6 381.9 897.8 C381.6 897 384.6 895.3 385.3 893.3 C386 891.3 386.8 885.2 386.5 884.2 C386.2 883.2 384 885 383.1 886.5 C382.2 888 382.7 893.2 380.8 894.4 C378.9 895.6 371.1 895.1 370.6 894.4 C370.1 893.7 375.9 891.8 377.4 889.9 C378.9 888 381.1 884.8 380.8 881.9 C380.5 879 376.7 874 375.2 870.6 C373.7 867.2 373.7 860.1 370.6 859.3 C367.5 858.5 359.2 863.8 354.8 865 C350.4 866.2 343.4 865 341.2 867.2 C339 869.4 340.4 875.1 340 879.7 C339.6 884.3 340.4 894.8 338.5 897.8 C336.6 900.8 328.7 899.9 327.6 899.6 C326.5 899.3 330.2 897.5 331 895.5 C331.8 893.5 333.2 886.8 333.2 886.5 C333.2 886.2 333.2 892.1 331 893.3 C328.8 894.5 319.4 894.9 318.5 894.4 C317.6 893.9 323.9 892.1 325.3 889.9 C326.7 887.7 327.4 883.3 327.6 879.7 C327.8 876.1 327.1 869.8 326.4 866.1 C325.7 862.4 324 858.2 323 854.8 C322 851.4 321.3 846.5 319.6 843.4 C317.9 840.3 314.2 836.3 311.7 834.4 C309.2 832.5 305 832.2 302.6 831 C300.3 829.8 297.2 827.8 295.9 826.4 C294.6 825 294 823.2 294 821.9Z" fill="#000"/>
<path d="M466.9 784.8 C467.2 783.6 468 780.8 469.9 779.8 C471.8 778.8 476.5 777.9 479.8 777.8 C483.1 777.6 488.8 778 491.8 778.8 C494.8 779.5 497.7 781.6 499.8 782.8 C501.9 784 504.2 786.6 505.7 786.8 C507.2 786.9 509.2 785.3 509.7 783.8 C510.1 782.3 509 778.6 508.7 776.9 C508.4 775.2 507.2 773 507.5 772.5 C507.8 772 510.1 774.1 510.7 773.9 C511.3 773.7 511.1 771.1 511.5 771 C511.9 770.9 512.7 773.4 513.3 773.5 C513.9 773.6 515.3 771.4 515.7 771.5 C516.1 771.6 515.5 773.8 516 774.5 C516.5 775.2 518.6 774.7 518.7 775.9 C518.8 777.1 516.9 780.9 516.7 782.8 C516.6 784.7 516.1 787 517.7 788.8 C519.3 790.6 524.3 792.9 527.6 794.8 C530.9 796.7 536 799.7 539.6 801.8 C543.2 803.8 548.9 807.4 551.6 808.7 C554.3 810 556 810.7 557.5 810.7 C559 810.7 560 809 561.5 808.7 C563 808.4 565.8 808.1 567.5 808.7 C569.2 809.3 572.6 811.8 573.1 812.7 C573.6 813.6 571.6 814.9 570.5 814.7 C569.4 814.6 566.5 811.7 565.5 811.7 C564.5 811.7 563.4 813.5 563.5 814.7 C563.6 815.9 564.1 818.5 566.5 819.7 C568.9 820.9 575.1 821.8 579.4 822.7 C583.7 823.6 591.5 825.2 595.4 825.7 C599.3 826.2 602.3 826.5 605.3 825.7 C608.3 825 612.3 821.8 615.3 820.7 C618.3 819.6 623.9 818.1 625.3 818.1 C626.6 818.1 625.8 819.4 624.3 820.7 C622.8 822 618.1 825.2 615.3 826.7 C612.4 828.2 608.9 829.9 605.3 830.6 C601.7 831.3 595.9 831.9 591.4 831.6 C586.9 831.3 580 829.5 575.5 828.6 C571 827.7 565.1 826 561.5 825.7 C557.9 825.4 554.3 826.3 551.6 826.7 C548.9 827.1 545.2 827.7 543.6 828.6 C542 829.5 542 831.6 540.6 832.6 C539.2 833.6 535.1 835.7 534.6 835.2 C534.1 834.8 536.2 831.2 537.6 829.6 C539 828 542.2 826 543.6 824.7 C545 823.4 547.8 821.9 546.6 820.7 C545.4 819.5 539 818.1 535.6 816.7 C532.2 815.4 526.7 812.9 523.7 811.7 C520.7 810.5 517.2 808.4 515.7 808.7 C514.2 809 513.9 812.2 513.7 813.7 C513.6 815.2 515 817.7 514.7 818.7 C514.4 819.7 512.4 820.2 511.5 820.5 C510.6 820.8 509.4 821.1 508.7 820.7 C508 820.3 506.7 818.9 506.7 817.7 C506.7 816.5 508.8 814.2 508.7 812.7 C508.6 811.2 507.6 809.2 505.7 807.7 C503.8 806.2 499.1 804.4 495.8 802.8 C492.5 801.1 487.2 798.6 483.8 796.8 C480.4 795 475.3 792.1 472.9 790.8 C470.5 789.4 468.8 788.7 467.9 787.8 C467 786.9 466.6 786 466.9 784.8Z" fill="#000"/>
<path d="M86 666.2 C88 665.1 93.3 667.7 96.1 667.5 C98.8 667.3 99.9 665.1 102.5 665 C105.1 664.9 108.2 666.3 111.7 666.8 C115.2 667.3 120.4 667.3 123.6 668.1 C126.8 668.9 129.4 670.2 130.9 671.8 C132.4 673.3 133.1 675.4 132.8 677.2 C132.4 679.1 131.7 680.6 129.1 682.8 C126.5 684.9 121.3 687.5 117.2 690.1 C113.1 692.7 108.3 695.5 104.3 698.3 C100.3 701 96 704 93.3 706.6 C90.5 709.2 88.9 711.5 87.8 713.9 C86.7 716.3 88.4 719.4 86.9 721.2 C85.4 723.1 82.2 724.1 78.7 724.9 C75.2 725.7 70.1 726.2 65.8 725.8 C61.5 725.3 56.4 723.9 53 722.2 C49.6 720.5 47.1 717.6 45.7 715.8 C44.3 713.9 42.9 712.6 44.8 711.2 C46.6 709.8 52 709.2 56.7 707.5 C61.4 705.8 68.9 703.2 73.2 701.1 C77.5 699 79.9 697 82.3 694.7 C84.7 692.4 86.9 689 87.8 687.3 C88.7 685.6 88.4 685.5 87.8 684.6 C87.2 683.7 84.8 683.5 84.2 681.8 C83.6 680.1 83.9 677.1 84.2 674.5 C84.5 671.9 84 667.4 86 666.2Z" fill="#99F576" stroke="#111" stroke-width="1.2" stroke-linejoin="round"/>
<path d="M44.8 598.4 C44.4 595.4 46.7 592.8 49.3 591.1 C51.9 589.4 56.3 588.3 60.3 588.3 C64.3 588.3 69.4 589.6 73.2 591.1 C77 592.6 81 594.6 83.2 597.5 C85.5 600.4 85.5 604.5 86.9 608.5 C88.3 612.5 89.2 617.2 91.5 621.3 C93.8 625.4 97.3 630 100.7 633.2 C104.1 636.5 108 638 111.7 640.6 C115.4 643.2 120.1 646 122.7 648.8 C125.3 651.5 126.8 654.4 127.2 657.1 C127.7 659.9 126 663.6 125.4 665.3 C124.8 667 125.9 667 123.6 667.2 C121.3 667.4 115.2 666.7 111.7 666.2 C108.2 665.8 105.1 664.2 102.5 664.4 C99.9 664.6 98.8 667.1 96.1 667.2 C93.3 667.4 88.3 666.5 86 665.3 C83.7 664.1 82.5 661.6 82.3 659.8 C82.1 658 84.9 657 85.1 654.3 C85.3 651.5 84.9 646.8 83.2 643.3 C81.6 639.8 78.5 636.6 75 633.2 C71.5 629.9 66.2 627.2 62.2 623.2 C58.2 619.2 54.1 613.5 51.2 609.4 C48.3 605.3 45.1 601.4 44.8 598.4Z" fill="#3FA0F6" stroke="#111" stroke-width="1.2" stroke-linejoin="round"/>
<path d="M183.6 829.6 C184.9 828.9 187.9 828.3 191.6 828.6 C195.2 828.9 202.3 831 205.5 831.2 C208.7 831.4 208.8 830.6 210.5 829.6 C212.2 828.6 213.3 826.3 215.5 825.3 C217.7 824.3 221 824.6 223.5 823.7 C226 822.8 228.2 820.4 230.5 819.7 C232.8 819 234.6 819.5 237.4 819.3 C240.2 819.1 244.7 818 247.4 818.7 C250.1 819.4 250.8 821.7 253.4 823.7 C256.1 825.7 259.7 829.1 263.3 830.6 C266.9 832.1 272.3 832.4 275.3 832.6 C278.3 832.8 280.3 830.8 281.3 831.6 C282.3 832.4 282.3 834.9 281.3 837.6 C280.3 840.3 278 844.9 275.3 847.6 C272.6 850.3 269.3 852.1 265.3 853.6 C261.3 855.1 256.4 856.2 251.4 856.5 C246.4 856.8 240.7 856.5 235.4 855.5 C230.1 854.5 224.8 852.6 219.5 850.6 C214.2 848.6 208.5 845.8 203.6 843.6 C198.6 841.4 192.9 839.4 189.6 837.6 C186.3 835.8 184.6 833.9 183.6 832.6 C182.6 831.3 182.3 830.3 183.6 829.6Z" fill="#99F576" stroke="#111" stroke-width="1.2" stroke-linejoin="round"/>
<path d="M199.6 818.7 C202.3 817.8 208.8 818.7 211.5 819.7 C214.2 820.7 216.2 822.9 216 824.5 C215.8 826.1 212.2 828.5 210.5 829.6 C208.8 830.7 208.1 832 205.5 831.2 C202.9 830.4 196 827.1 195 825 C194 822.9 196.8 819.6 199.6 818.7Z" fill="#fff" stroke="#111" stroke-width="1.2" stroke-linejoin="round"/>
<path d="M175.7 807.7 C175.8 806.1 176.9 804.4 179.6 804.1 C182.3 803.8 186.6 804.9 191.6 805.7 C196.6 806.5 204.8 807.9 209.5 808.7 C214.2 809.5 216.3 809.5 219.5 810.7 C222.7 811.9 226.7 814.4 228.5 815.7 C230.3 817 231 817.5 230.5 818.7 C230 819.9 227.7 821.9 225.5 822.7 C223.3 823.5 219.8 824.2 217.5 823.7 C215.2 823.2 214.5 820.5 211.5 819.7 C208.5 818.9 203.9 818.7 199.6 818.7 C195.3 818.7 189.1 820.5 185.6 819.7 C182.1 818.9 180.3 815.7 178.6 813.7 C176.9 811.7 175.5 809.3 175.7 807.7Z" fill="#fff" stroke="#111" stroke-width="1.2" stroke-linejoin="round"/>
<path d="M177.7 759.9 C178.6 758.2 179.9 756.2 183.6 753.9 C187.3 751.6 193.9 748.4 199.6 745.9 C205.2 743.4 213.7 740 217.5 739 C221.3 738 221.5 738.9 222.5 740 C223.5 741.1 223.6 742.6 223.5 745.9 C223.4 749.2 221.6 754.9 221.9 759.9 C222.2 764.9 223.6 771.1 225.5 775.8 C227.4 780.4 230.1 784.1 233.4 787.8 C236.7 791.5 242.9 795.4 245.4 797.8 C247.9 800.1 248.2 799.7 248.4 801.7 C248.6 803.7 246.7 807 246.4 809.7 C246.1 812.4 247.9 816.2 246.4 817.7 C244.9 819.2 240.2 819.2 237.4 818.7 C234.6 818.2 232.5 816.2 229.5 814.7 C226.5 813.2 222.3 811.2 219.5 809.7 C216.7 808.2 214 808.4 212.5 805.7 C211 803.1 211.8 798.1 210.5 793.8 C209.2 789.5 207.4 783.3 204.6 779.8 C201.7 776.3 197.4 774.7 193.6 772.9 C189.8 771 184.3 770.4 181.6 768.9 C178.9 767.4 178.3 765.4 177.7 763.9 C177 762.4 176.7 761.6 177.7 759.9Z" fill="#3FA0F6" stroke="#111" stroke-width="1.2" stroke-linejoin="round"/>
<path d="M520 379.7 C524 358 540 328 562 309.7 C570 303.5 577 301 584.2 299.2 L580.7 287.5 Q612 293.5 634.3 309.7 L601.7 344.7 L598.2 335.3 C590 336 584 337.5 578.3 340 C560 350 543 366 529.3 384.3Z" fill="#fff" stroke="#555" stroke-width="1.1" stroke-linejoin="miter"/>
<path d="M581 287.8 Q612 293.5 634.3 309.7 L601.7 344.7" fill="none" stroke="#555" stroke-width="3.2" stroke-linejoin="miter"/>
<path d="M470 365.5 L475.5 379.5 L481 384 M478.5 365 L487 379.5 L492.5 383.5" fill="none" stroke="#000" stroke-width="3" stroke-linejoin="round"/>
<path d="M464 385.8 C470 383.2 476 383.6 481 384.6 C486 386 492 389.2 497 386.6 L501.5 382 M481 384.6 L489 389.3 M477 383 L469.5 381.3 M492 384 L497 381" fill="none" stroke="#000" stroke-width="2.6" stroke-linecap="round"/>
</g>
<g id="girdles">
<path d="M909.3 28.7 C909.3 27.4 909.4 26.6 910.7 25.3 C912 24 913.5 22.5 917.3 20.7 C921.1 18.9 927.3 16.6 933.3 14.7 C939.3 12.8 946.6 10.7 953.3 9.3 C960 7.9 966.6 7.1 973.3 6.4 C980 5.7 987.7 5.4 993.3 5.3 C998.9 5.2 1003.1 5.9 1006.7 5.6 C1010.3 5.3 1012.3 3.9 1014.7 3.3 C1017.1 2.7 1019.3 2.1 1021.3 2 C1023.3 1.9 1025.2 2.2 1026.7 2.9 C1028.2 3.6 1029.1 4.5 1030 6 C1030.9 7.5 1031 9.7 1032 12 C1033 14.3 1034.7 18 1036 20 C1037.3 22 1039.2 21.6 1040 24 C1040.8 26.4 1040.5 30.9 1040.7 34.7 C1040.9 38.5 1040.9 42.5 1041.3 46.7 C1041.7 50.9 1042.7 55.3 1043.3 60 C1043.9 64.7 1044.6 70.8 1044.7 74.7 C1044.8 78.6 1044.5 81.8 1044 83.3 C1043.5 84.8 1043.8 84.8 1042 84 C1040.2 83.2 1036.1 81.2 1033.3 78.7 C1030.5 76.2 1027.4 72.4 1025.3 69.3 C1023.2 66.2 1021.1 62.7 1020.7 60 C1020.3 57.3 1021.5 55.3 1022.7 53.3 C1023.9 51.3 1026.6 49.8 1028 48 C1029.4 46.2 1030.8 44.7 1031.3 42.7 C1031.8 40.7 1031.7 38 1031.3 36 C1030.9 34 1029.9 32.2 1028.7 30.7 C1027.5 29.1 1025.9 27.7 1024 26.7 C1022.1 25.7 1019.8 25.4 1017.3 24.7 C1014.8 24 1011.3 23.5 1009.3 22.7 C1007.3 21.9 1006.6 21.1 1005.3 20 C1004 18.9 1003.3 17.1 1001.3 16 C999.3 14.9 996.8 13.8 993.3 13.3 C989.8 12.8 985.5 12.5 980 13.1 C974.5 13.7 966.7 15.1 960 16.7 C953.3 18.3 946 20.6 940 22.7 C934 24.8 928.5 27.4 924 29.3 C919.5 31.2 915.5 33.3 913.3 34 C911.1 34.7 911.4 34.2 910.7 33.3 C910 32.4 909.3 30 909.3 28.7Z" fill="#BEBEBE" stroke="#444" stroke-width="0.9" stroke-linejoin="round"/>
<path d="M1055.3 135 C1056.8 133.9 1057.5 133.8 1059.5 135.5 C1061.5 137.2 1064.1 142.5 1067.3 145.4 C1070.5 148.3 1078.4 149.3 1078.6 153.2 C1078.8 157.1 1072 163.5 1068.7 168.7 C1065.4 173.9 1061.5 180.4 1058.8 184.3 C1056.1 188.2 1053.8 191.2 1052.4 192.1 C1051 193 1050.1 192.2 1050.6 190 C1051.1 187.8 1054.2 182.5 1055.3 178.7 C1056.4 174.9 1056.9 170.6 1057.4 167.3 C1057.9 164 1058.9 160.7 1058.1 158.8 C1057.3 156.9 1054.2 156.8 1052.4 156 C1050.6 155.2 1048.5 155 1047.5 153.9 C1046.5 152.8 1045.8 151.6 1046.3 149.6 C1046.8 147.6 1048.8 144.5 1050.3 142.1 C1051.8 139.7 1053.8 136.1 1055.3 135Z" fill="#99F576" stroke="#111" stroke-width="1.3" stroke-linejoin="round"/>
<path d="M931.6 139.7 C932 139 931.4 138.5 934.2 137.6 C937 136.7 941.2 135.5 948.3 134 C955.4 132.5 967.2 130.1 976.7 128.4 C986.2 126.8 997.9 125 1005 124.1 C1012.1 123.1 1015.2 122.8 1019.2 122.7 C1023.2 122.6 1025.6 123.2 1029.1 123.7 C1032.6 124.2 1036.2 125.4 1040.4 125.5 C1044.7 125.6 1051.9 124.4 1054.6 124.5 C1057.3 124.6 1056.8 125.1 1056.7 126.2 C1056.6 127.3 1054.1 129.8 1053.9 131.2 C1053.7 132.6 1055.9 132.9 1055.3 134.7 C1054.7 136.5 1051.8 139.3 1050.3 141.8 C1048.8 144.3 1047.8 148.4 1046.1 149.6 C1044.4 150.8 1042.2 149.5 1040.4 148.9 C1038.6 148.3 1036.5 147.3 1035.4 146.1 C1034.3 144.9 1033.9 143.1 1034 141.8 C1034.1 140.5 1037.2 139.2 1036.1 138.3 C1035 137.4 1031.6 136.8 1027.6 136.2 C1023.6 135.6 1018.2 134.8 1012.1 134.7 C1006 134.6 997.9 134.9 990.8 135.5 C983.7 136.1 976.7 137.3 969.6 138.3 C962.5 139.3 954 140.7 948.3 141.5 C942.6 142.3 938.3 142.9 935.6 143 C932.9 143.1 932.7 142.4 932 141.8 C931.3 141.2 931.2 140.4 931.6 139.7Z" fill="#3FA0F6" stroke="#223" stroke-width="1" stroke-linejoin="round"/>
<path d="M1071.6 248.1 C1072.5 247.2 1073.8 243.8 1075.2 242.5 C1076.6 241.2 1078.3 240.6 1080.1 240.3 C1081.9 240.1 1084.5 240.3 1085.8 241 C1087.1 241.7 1087.8 243.2 1087.9 244.6 C1088 246 1087.8 248 1086.5 249.5 C1085.2 251 1083 251.8 1080.1 253.8 C1077.1 255.8 1073 258.5 1068.8 261.6 C1064.5 264.7 1059.1 268.9 1054.6 272.2 C1050.1 275.5 1045 278.8 1041.9 281.4 C1038.8 284 1038.3 286.6 1036.2 287.8 C1034.1 289 1031.8 288.8 1029.2 288.8 C1026.6 288.8 1022.8 288.3 1020.7 287.8 C1018.6 287.3 1017 286.6 1016.7 285.7 C1016.5 284.8 1017.1 283.7 1019.2 282.1 C1021.3 280.6 1025.2 278.9 1029.2 276.4 C1033.2 273.9 1039.1 270.1 1043.3 267.2 C1047.5 264.2 1051 261.4 1054.6 258.7 C1058.1 256 1062.1 252.7 1064.6 250.9 C1067.1 249.1 1068.3 248.6 1069.5 248.1 C1070.7 247.6 1070.6 249 1071.6 248.1Z" fill="#99F576" stroke="#111" stroke-width="1.3" stroke-linejoin="round"/>
<path d="M942 221.2 C942 220.1 942.7 218.6 944.2 217.7 C945.7 216.8 946.5 216.2 951.2 215.5 C955.9 214.8 964.2 214.2 972.5 213.7 C980.8 213.2 992.5 212.6 1000.8 212.7 C1009.1 212.8 1015 213.3 1022.1 214.1 C1029.2 214.9 1036.2 216.2 1043.3 217.7 C1050.4 219.2 1058.7 221.3 1064.6 223.3 C1070.5 225.3 1075.3 227.6 1078.7 229.7 C1082.1 231.8 1084.1 234.4 1085.1 236.1 C1086 237.8 1085.7 238.8 1084.4 239.6 C1083.1 240.4 1079 240.7 1077.3 241 C1075.6 241.3 1075.2 241 1074.5 241.7 C1073.8 242.4 1073.8 244.5 1073.1 245.3 C1072.4 246.1 1071.6 246.9 1070.2 246.7 C1068.8 246.5 1066.4 245 1064.6 243.9 C1062.8 242.8 1060.7 241.7 1059.6 240.3 C1058.5 238.9 1058 236.8 1058.2 235.4 C1058.4 234 1061.6 233 1061 231.8 C1060.4 230.6 1058 229.5 1054.6 228.3 C1051.2 227.1 1045.9 225.7 1040.5 224.7 C1035.1 223.7 1028.7 222.7 1022.1 222.2 C1015.5 221.7 1009.1 221.8 1000.8 221.9 C992.5 222 980.8 222.2 972.5 222.6 C964.2 223 955.9 224.3 951.2 224.5 C946.5 224.7 945.7 224.6 944.2 224 C942.7 223.4 942 222.2 942 221.2Z" fill="#3FA0F6" stroke="#223" stroke-width="1" stroke-linejoin="round"/>
<path d="M980 330.9 C980.5 329.7 981 329.6 986 328.9 C991 328.2 1001.6 327.1 1009.9 326.9 C1018.2 326.7 1027.5 327.1 1035.8 327.9 C1044.1 328.7 1052.4 330.4 1059.7 331.9 C1067 333.4 1074.6 335.1 1079.6 336.9 C1084.6 338.7 1087.1 340.6 1089.6 342.9 C1092.1 345.2 1093.3 348.7 1094.6 350.9 C1095.9 353.1 1096.4 354.6 1097.6 355.9 C1098.8 357.2 1101.6 356.8 1101.6 358.8 C1101.6 360.8 1099.6 364.5 1097.6 367.8 C1095.6 371.1 1092.6 374.5 1089.6 378.8 C1086.6 383.1 1082.9 388.9 1079.6 393.7 C1076.3 398.5 1072.3 404.7 1069.7 407.7 C1067.1 410.7 1065.7 410.9 1063.7 411.7 C1061.7 412.5 1060 413.2 1057.7 412.7 C1055.4 412.2 1051.9 410.5 1049.7 408.7 C1047.5 406.9 1045.8 403.7 1044.8 401.7 C1043.8 399.7 1042.3 397.9 1043.8 396.7 C1045.3 395.5 1050.4 396 1053.7 394.7 C1057 393.4 1060.7 391 1063.7 388.7 C1066.7 386.4 1069.4 383.6 1071.7 380.8 C1074 378 1076.2 374.5 1077.7 371.8 C1079.2 369.1 1080.8 366.3 1080.6 364.8 C1080.4 363.3 1078.2 363.6 1076.7 362.8 C1075.2 362 1072 361 1071.7 359.8 C1071.4 358.6 1075 357 1074.7 355.9 C1074.4 354.8 1071.2 353.9 1069.7 352.9 C1068.2 351.9 1066.4 351.1 1065.7 349.9 C1065 348.7 1066.4 347.2 1065.7 345.9 C1065 344.6 1063.7 343.2 1061.7 341.9 C1059.7 340.6 1058 339.1 1053.7 337.9 C1049.4 336.7 1043.1 335.6 1035.8 334.9 C1028.5 334.2 1017.5 333.8 1009.9 333.9 C1002.2 334 994.4 335.2 989.9 335.5 C985.4 335.8 984.6 336.7 983 335.9 C981.4 335.1 979.5 332.1 980 330.9Z" fill="#BEBEBE" stroke="#444" stroke-width="1" stroke-linejoin="round"/>
<path d="M996.9 433.6 C997.5 432.8 996.4 431.9 1001.9 431.2 C1007.4 430.5 1020.2 429.8 1029.8 429.2 C1039.4 428.6 1051.1 427.7 1059.7 427.6 C1068.3 427.5 1073.9 427.8 1081.6 428.6 C1089.2 429.4 1098.3 431.1 1105.6 432.6 C1112.9 434.1 1120.5 435.9 1125.5 437.6 C1130.5 439.3 1133 440.6 1135.5 442.6 C1138 444.6 1139.2 447 1140.5 449.6 C1141.8 452.2 1141.8 455.7 1143.4 458.5 C1145.1 461.3 1150.1 463.7 1150.4 466.5 C1150.7 469.3 1148.2 471.4 1145.4 475.5 C1142.6 479.6 1137.5 486.1 1133.5 491.4 C1129.5 496.7 1124.7 503.1 1121.5 507.4 C1118.3 511.7 1116.5 515.3 1114.5 517.3 C1112.5 519.3 1112.4 519.1 1109.6 519.3 C1106.8 519.5 1101.8 519 1097.6 518.3 C1093.4 517.6 1087.4 516.4 1084.6 515.3 C1081.8 514.1 1079.4 512.7 1080.6 511.4 C1081.8 510.1 1087.4 509.7 1091.6 507.4 C1095.8 505.1 1101.6 501.1 1105.6 497.4 C1109.6 493.7 1112.8 489 1115.5 485.4 C1118.2 481.8 1120.3 478 1121.5 475.5 C1122.7 473 1123.3 471.5 1122.5 470.5 C1121.7 469.5 1118 470.3 1116.5 469.5 C1115 468.7 1113.5 466.7 1113.5 465.5 C1113.5 464.3 1116.7 463.7 1116.5 462.5 C1116.3 461.3 1113.7 460 1112.5 458.5 C1111.3 457 1110.6 454.8 1109.6 453.5 C1108.6 452.2 1107.4 451.9 1106.6 450.6 C1105.8 449.3 1106.1 447.3 1104.6 445.6 C1103.1 443.9 1101.4 442.2 1097.6 440.6 C1093.8 439 1087.9 437 1081.6 436 C1075.3 435 1068.3 434.7 1059.7 434.6 C1051.1 434.5 1039.4 435.2 1029.8 435.6 C1020.2 436 1007.2 436.7 1001.9 436.8 C996.6 436.9 998.8 436.5 998 436 C997.2 435.5 996.2 434.4 996.9 433.6Z" fill="#BEBEBE" stroke="#222" stroke-width="1.2" stroke-linejoin="round"/>
<path d="M972.5 570 C974.2 568.1 978.8 564.5 985 562 C991.2 559.5 1000.8 556.8 1010 555 C1019.2 553.2 1031.4 552.1 1040 551.2 C1048.6 550.3 1054.5 549.8 1061.7 549.6 C1069 549.4 1077.2 549.6 1083.5 550.1 C1089.8 550.6 1095.3 551.7 1099.8 552.8 C1104.3 553.9 1107.6 555.2 1110.7 556.6 C1113.8 558 1117.6 559.8 1118.3 561 C1119 562.2 1116.5 562.4 1115 563.7 C1113.5 565 1111.2 567 1109.6 568.6 C1108 570.2 1106.7 572.8 1105.2 573.5 C1103.8 574.2 1102.5 573.2 1100.9 572.9 C1099.3 572.6 1096.8 572.6 1095.4 571.8 C1094 571 1093.2 569.4 1092.7 568 C1092.2 566.6 1093 565 1092.2 563.7 C1091.4 562.4 1090.2 561.5 1087.8 560.4 C1085.4 559.3 1082.3 557.8 1078 557.2 C1073.7 556.6 1068 556.2 1061.7 556.6 C1055.4 557 1048.6 558.5 1040 559.9 C1031.4 561.3 1019.2 562.9 1010 565 C1000.8 567.1 990.8 571.1 985 572.5 C979.2 573.9 977.1 573.9 975 573.5 C972.9 573.1 970.8 571.9 972.5 570Z" fill="#3FA0F6" stroke="#223" stroke-width="1" stroke-linejoin="round"/>
<path d="M1121 559.3 C1122.8 559.3 1124.4 561.7 1125.9 563.7 C1127.4 565.7 1128.6 568.6 1130.2 571.3 C1131.8 574 1133.4 577.1 1135.7 580 C1138 582.9 1144 586.2 1144.3 588.7 C1144.6 591.2 1140.7 592.3 1137.8 595.2 C1134.9 598.1 1130.6 602.5 1127 606.1 C1123.4 609.7 1119.7 613.6 1116.1 617 C1112.5 620.4 1107.8 624.3 1105.2 626.7 C1102.6 629.1 1101.4 631.1 1100.3 631.6 C1099.2 632.1 1098.1 631.5 1098.7 630 C1099.3 628.5 1102.3 625.3 1104.1 622.4 C1105.9 619.5 1108.1 615.7 1109.6 612.6 C1111 609.5 1112.1 606.8 1112.8 603.9 C1113.5 601 1114 597.7 1113.9 595.2 C1113.8 592.7 1113.2 590.3 1112.3 588.7 C1111.4 587.1 1109.8 586.3 1108.5 585.4 C1107.2 584.5 1105.5 584.6 1104.7 583.3 C1103.9 582 1103.5 579.4 1103.6 577.8 C1103.7 576.2 1104.2 575 1105.2 573.5 C1106.2 572 1108 570.7 1109.6 569.1 C1111.2 567.5 1113.1 565.3 1115 563.7 C1116.9 562.1 1119.2 559.3 1121 559.3Z" fill="#99F576" stroke="#111" stroke-width="1.3" stroke-linejoin="round"/>
<path d="M975 701.5 C977 699.7 982.5 696.8 990 695 C997.5 693.2 1011.7 691.4 1020 690.5 C1028.3 689.6 1031.2 689.9 1040 689.6 C1048.8 689.4 1062.6 688.9 1072.6 689 C1082.6 689.1 1092.9 689.9 1099.8 690.1 C1106.7 690.3 1110.1 690.3 1113.9 690.1 C1117.7 689.9 1120.9 688.5 1122.6 688.7 C1124.3 688.9 1124.6 690.1 1123.9 691.2 C1123.2 692.3 1119.8 693.6 1118.3 695.5 C1116.8 697.4 1116.5 701.1 1115 702.6 C1113.5 704.1 1111.5 704.6 1109.6 704.8 C1107.7 705 1105 704.8 1103.6 703.7 C1102.2 702.6 1102.2 699.5 1101.4 698.3 C1100.6 697.1 1103.5 696.8 1098.7 696.6 C1093.9 696.4 1082.4 697 1072.6 697.2 C1062.8 697.4 1048.8 697.4 1040 698 C1031.2 698.6 1028.3 699.7 1020 701 C1011.7 702.3 997 705.2 990 706 C983 706.8 980.5 706.8 978 706 C975.5 705.2 973 703.3 975 701.5Z" fill="#3FA0F6" stroke="#223" stroke-width="1" stroke-linejoin="round"/>
<path d="M1124.8 689.6 C1126.4 688 1128 686.2 1130.2 685.2 C1132.4 684.2 1135.7 683.7 1137.8 683.9 C1139.9 684.1 1141.7 685 1142.7 686.3 C1143.7 687.6 1144.1 689.7 1143.8 691.7 C1143.5 693.7 1142.2 696.6 1141.1 698.3 C1140 700 1138.8 701.2 1137.3 702.1 C1135.8 703 1134.1 702.2 1132.4 703.7 C1130.7 705.2 1129.3 708.2 1127 711.3 C1124.7 714.4 1121.2 718.4 1118.3 722.2 C1115.4 726 1112.9 729.8 1109.6 734.1 C1106.3 738.5 1102 743.9 1098.7 748.3 C1095.4 752.6 1092.3 757 1090 760.2 C1087.7 763.5 1086 765.7 1084.6 767.8 C1083.2 769.9 1082.4 771.4 1081.8 772.7 C1081.2 774 1081.6 775 1080.8 775.4 C1080 775.8 1079.3 774.4 1077 774.9 C1074.7 775.4 1070.3 777.3 1067.2 778.2 C1064.1 779.1 1060.6 780.1 1058.5 780.3 C1056.4 780.5 1055.5 779.8 1054.7 779.2 C1053.9 778.6 1053.1 777.9 1053.6 776.5 C1054 775.1 1055 774 1057.4 771.1 C1059.9 768.2 1064.3 763.5 1068.3 759.1 C1072.3 754.8 1077.1 749.5 1081.3 745 C1085.5 740.5 1089.7 736.4 1093.3 732 C1096.9 727.6 1100.6 722.5 1103 718.9 C1105.4 715.3 1106.9 712.4 1107.9 710.2 C1108.9 708 1108.4 707 1109 705.9 C1109.6 704.8 1110.5 704.6 1111.7 703.7 C1112.9 702.8 1114.6 701.9 1116.1 700.4 C1117.5 698.9 1119 696.8 1120.4 695 C1121.9 693.2 1123.2 691.2 1124.8 689.6Z" fill="#99F576" stroke="#111" stroke-width="1.5" stroke-linejoin="round"/>
<path d="M982.5 915 C983.3 913 985.4 908.6 990 905 C994.6 901.4 1003.3 896.4 1010 893.5 C1016.7 890.6 1023.3 889 1030 887.5 C1036.7 886 1042.7 885.5 1050 884.2 C1057.3 883 1065.8 881 1073.6 880 C1081.4 879 1091.8 878.7 1097.1 878.3 C1102.4 877.9 1102.2 878.2 1105.4 877.7 C1108.6 877.2 1113.1 876.1 1116 875.3 C1118.9 874.5 1122.2 872.2 1123 873 C1123.8 873.8 1122 877.4 1121 880 C1120 882.6 1118.5 887.1 1117.1 888.9 C1115.7 890.7 1114 890.6 1112.4 890.6 C1110.8 890.6 1109.1 889.8 1107.7 888.9 C1106.3 888 1107 885.8 1104.2 885.3 C1101.5 884.8 1096.3 885.3 1091.2 885.9 C1086.1 886.5 1080.5 887.4 1073.6 888.9 C1066.7 890.4 1057.3 893 1050 894.8 C1042.7 896.6 1035.8 898 1030 899.5 C1024.2 901 1020.8 901.8 1015 904 C1009.2 906.2 1000 910.8 995 913 C990 915.2 987.1 916.7 985 917 C982.9 917.3 981.7 917 982.5 915Z" fill="#3FA0F6" stroke="#223" stroke-width="1" stroke-linejoin="round"/>
<path d="M1124.2 872.4 C1124.9 870.9 1125.3 869.5 1127.1 868.3 C1128.9 867.1 1132.4 865.8 1134.8 865.3 C1137.2 864.8 1139.7 864.6 1141.3 865.3 C1142.9 866 1143.8 867.2 1144.2 869.4 C1144.6 871.6 1144.2 875.9 1143.6 878.3 C1143 880.7 1142 882.4 1140.7 883.6 C1139.4 884.8 1137.8 883 1136 885.3 C1134.2 887.5 1132.6 892.4 1130.1 897.1 C1127.5 901.8 1123.8 907.9 1120.7 913.6 C1117.6 919.3 1114 926.2 1111.2 931.3 C1108.5 936.4 1106 940.5 1104.2 944.2 C1102.4 947.9 1101.2 951.1 1100.6 953.7 C1100 956.4 1101.6 958.6 1100.6 960.1 C1099.6 961.6 1097.3 961.5 1094.8 962.5 C1092.2 963.5 1088.8 964.7 1085.3 966 C1081.8 967.3 1075.8 969.7 1073.6 970.1 C1071.3 970.5 1071.8 969.8 1071.8 968.4 C1071.8 967 1072.1 964.2 1073.6 961.9 C1075.1 959.6 1077.9 957.9 1080.6 954.8 C1083.3 951.7 1087.2 947.2 1090 943.1 C1092.8 939 1094.9 934.4 1097.1 930.1 C1099.3 925.8 1101 921.6 1103 917.1 C1105 912.6 1107.3 907.1 1108.9 903 C1110.5 898.9 1111 894.8 1112.4 892.4 C1113.8 890 1115.7 890.5 1117.1 888.9 C1118.5 887.3 1119.7 885 1120.7 883 C1121.7 881 1122.4 878.9 1123 877.1 C1123.6 875.3 1123.5 873.9 1124.2 872.4Z" fill="#99F576" stroke="#111" stroke-width="1.5" stroke-linejoin="round"/>
</g>
<g id="hands">
<path d="M1105.3 4.5 C1106.1 7.3 1109.2 15.5 1110 21.2 C1110.8 26.9 1110.3 35.6 1110.4 38.5" fill="none" stroke="#333" stroke-width="5.2" stroke-linecap="round" stroke-linejoin="round"/><path d="M1105.3 4.5 C1106.1 7.3 1109.2 15.5 1110 21.2 C1110.8 26.9 1110.3 35.6 1110.4 38.5" fill="none" stroke="#fff" stroke-width="3.4" stroke-linecap="round" stroke-linejoin="round"/>
<path d="M1099.5 5 L1098.6 43.8" fill="none" stroke="#333" stroke-width="6.4" stroke-linecap="round" stroke-linejoin="round"/><path d="M1099.5 5 L1098.6 43.8" fill="none" stroke="#fff" stroke-width="4.6" stroke-linecap="round" stroke-linejoin="round"/>
<path d="M1092 5.5 L1091.8 21" fill="none" stroke="#333" stroke-width="8.4" stroke-linecap="round" stroke-linejoin="round"/><path d="M1092 5.5 L1091.8 21" fill="none" stroke="#fff" stroke-width="6.6" stroke-linecap="round" stroke-linejoin="round"/>
<ellipse cx="1098" cy="3.6" rx="5.5" ry="2.6" fill="#fff" stroke="#333" stroke-width="0.9"/>
<path d="M1091.6 24 L1085.5 48.5" fill="none" stroke="#333" stroke-width="6.6" stroke-linecap="round" stroke-linejoin="round"/><path d="M1091.6 24 L1085.5 48.5" fill="none" stroke="#22E6F2" stroke-width="4.8" stroke-linecap="round" stroke-linejoin="round"/>
<path d="M1082.9 49.2 Q1079.2 65 1075.5 80.7 Q1081.6 65.7 1087.7 50.8Z" fill="#22E6F2" stroke="#333" stroke-width="0.9" stroke-linejoin="round"/>
<path d="M1098.3 46.5 L1096 64.5" fill="none" stroke="#333" stroke-width="6.4" stroke-linecap="round" stroke-linejoin="round"/><path d="M1098.3 46.5 L1096 64.5" fill="none" stroke="#F5A823" stroke-width="4.6" stroke-linecap="round" stroke-linejoin="round"/>
<path d="M1095.7 68 L1088.6 95.2" fill="none" stroke="#333" stroke-width="6" stroke-linecap="round" stroke-linejoin="round"/><path d="M1095.7 68 L1088.6 95.2" fill="none" stroke="#F5A823" stroke-width="4.2" stroke-linecap="round" stroke-linejoin="round"/>
<path d="M1086.4 96.4 Q1083.1 109.7 1079.8 123.1 Q1085 110.4 1090.2 97.6Z" fill="#F5A823" stroke="#333" stroke-width="0.9" stroke-linejoin="round"/>
<path d="M1110.4 40.5 L1109.6 48.5" fill="none" stroke="#333" stroke-width="5" stroke-linecap="round" stroke-linejoin="round"/><path d="M1110.4 40.5 L1109.6 48.5" fill="none" stroke="#F05252" stroke-width="3.2" stroke-linecap="round" stroke-linejoin="round"/>
<path d="M1109.4 51 L1108.9 55.5" fill="none" stroke="#333" stroke-width="5" stroke-linecap="round" stroke-linejoin="round"/><path d="M1109.4 51 L1108.9 55.5" fill="none" stroke="#F05252" stroke-width="3.2" stroke-linecap="round" stroke-linejoin="round"/>
<path d="M1108.5 58.5 L1106 76.5" fill="none" stroke="#333" stroke-width="5" stroke-linecap="round" stroke-linejoin="round"/><path d="M1108.5 58.5 L1106 76.5" fill="none" stroke="#F05252" stroke-width="3.2" stroke-linecap="round" stroke-linejoin="round"/>
<path d="M1104.2 78.2 Q1103.6 88 1103 97.8 Q1105.3 88.3 1107.6 78.8Z" fill="#F05252" stroke="#333" stroke-width="0.9" stroke-linejoin="round"/>
<path d="M1124.2 97.8 C1124.7 100.6 1126.5 108.4 1127.1 114.4 C1127.7 120.4 1127.6 130.7 1127.7 134" fill="none" stroke="#333" stroke-width="3.8" stroke-linecap="round" stroke-linejoin="round"/><path d="M1124.2 97.8 C1124.7 100.6 1126.5 108.4 1127.1 114.4 C1127.7 120.4 1127.6 130.7 1127.7 134" fill="none" stroke="#fff" stroke-width="2" stroke-linecap="round" stroke-linejoin="round"/>
<path d="M1120.6 97.5 C1120.8 100.3 1121.4 108.3 1121.8 114.4 C1122.2 120.5 1122.8 130.7 1123 134" fill="none" stroke="#333" stroke-width="5.6" stroke-linecap="round" stroke-linejoin="round"/><path d="M1120.6 97.5 C1120.8 100.3 1121.4 108.3 1121.8 114.4 C1122.2 120.5 1122.8 130.7 1123 134" fill="none" stroke="#fff" stroke-width="3.8" stroke-linecap="round" stroke-linejoin="round"/>
<path d="M1116.7 98.8 L1117.5 106.8" fill="none" stroke="#333" stroke-width="4.6" stroke-linecap="round" stroke-linejoin="round"/><path d="M1116.7 98.8 L1117.5 106.8" fill="none" stroke="#fff" stroke-width="2.8" stroke-linecap="round" stroke-linejoin="round"/>
<circle cx="1121.2" cy="95.2" r="2.8" fill="#fff" stroke="#333" stroke-width="0.9"/>
<path d="M1117.5 109.5 C1117.1 111.3 1116.3 116.1 1115.3 120.3 C1114.2 124.5 1112.2 131.2 1111.2 134.5 C1110.2 137.8 1109.9 139.1 1109.6 140" fill="none" stroke="#333" stroke-width="4.6" stroke-linecap="round" stroke-linejoin="round"/><path d="M1117.5 109.5 C1117.1 111.3 1116.3 116.1 1115.3 120.3 C1114.2 124.5 1112.2 131.2 1111.2 134.5 C1110.2 137.8 1109.9 139.1 1109.6 140" fill="none" stroke="#22E6F2" stroke-width="2.8" stroke-linecap="round" stroke-linejoin="round"/>
<path d="M1109.4 142.2 C1110.6 142.3 1112.1 142.5 1112.4 143.9 C1112.7 145.3 1112.4 148.4 1111.2 150.4 C1110 152.4 1107.5 154.8 1105.3 155.7 C1103 156.6 1100.2 156.8 1097.7 155.7 C1095.2 154.6 1090.6 149.8 1090 149.2 C1089.4 148.6 1092.2 151.4 1094.1 152.1 C1096 152.8 1099 153.7 1101.2 153.3 C1103.4 152.9 1106 151.2 1107.1 149.8 C1108.2 148.4 1108 146.1 1107.7 145 C1107.4 143.9 1105 143.8 1105.3 143.3 C1105.6 142.8 1108.2 142.1 1109.4 142.2Z" fill="#22E6F2" stroke="#333" stroke-width="0.9" stroke-linejoin="round"/>
<path d="M1123.3 136.5 L1122.6 155.5" fill="none" stroke="#333" stroke-width="5.2" stroke-linecap="round" stroke-linejoin="round"/><path d="M1123.3 136.5 L1122.6 155.5" fill="none" stroke="#F5A823" stroke-width="3.4" stroke-linecap="round" stroke-linejoin="round"/>
<path d="M1122.4 157.8 C1122 160.4 1121.2 168.5 1120 173.3 C1118.8 178.1 1116.2 184.6 1115.5 186.8" fill="none" stroke="#333" stroke-width="4.8" stroke-linecap="round" stroke-linejoin="round"/><path d="M1122.4 157.8 C1122 160.4 1121.2 168.5 1120 173.3 C1118.8 178.1 1116.2 184.6 1115.5 186.8" fill="none" stroke="#F5A823" stroke-width="3" stroke-linecap="round" stroke-linejoin="round"/>
<path d="M1114.7 188 C1115.4 188 1116 188.5 1115.9 189.8 C1115.8 191.1 1115.7 193.9 1114.2 195.7 C1112.7 197.5 1109.5 199.8 1107.1 200.4 C1104.7 201 1102 200 1100 199.3 C1098 198.6 1094.9 196.6 1095.3 196.3 C1095.7 196 1100.1 197.8 1102.4 197.5 C1104.8 197.2 1107.8 195.8 1109.4 194.5 C1111 193.2 1110.9 190.9 1111.8 189.8 C1112.7 188.7 1114 188 1114.7 188Z" fill="#F5A823" stroke="#333" stroke-width="0.9" stroke-linejoin="round"/>
<path d="M1127.7 136.5 C1127.9 138.7 1128.7 145.1 1128.9 149.8 C1129.2 154.5 1129.2 162.1 1129.2 164.5" fill="none" stroke="#333" stroke-width="4" stroke-linecap="round" stroke-linejoin="round"/><path d="M1127.7 136.5 C1127.9 138.7 1128.7 145.1 1128.9 149.8 C1129.2 154.5 1129.2 162.1 1129.2 164.5" fill="none" stroke="#F05252" stroke-width="2.2" stroke-linecap="round" stroke-linejoin="round"/>
<path d="M1128.5 165.5 C1129.3 165.5 1131.2 166.3 1131.8 167.4 C1132.3 168.5 1132.4 170.6 1131.8 172.2 C1131.2 173.8 1130.2 175.6 1128.3 176.9 C1126.4 178.2 1121 180.2 1120.6 180.2 C1120.2 180.2 1124.5 178.2 1125.9 176.9 C1127.3 175.6 1128.7 173.8 1128.9 172.2 C1129.1 170.6 1127.2 168.5 1127.1 167.4 C1127 166.3 1127.7 165.5 1128.5 165.5Z" fill="#F05252" stroke="#333" stroke-width="0.9" stroke-linejoin="round"/>
<path d="M1121 209.5 C1121.8 208.3 1122.7 206.7 1124 206 C1125.3 205.3 1127.4 205.1 1129 205.3 C1130.6 205.6 1132.4 205.3 1133.5 207.5 C1134.6 209.7 1135.2 214.4 1135.6 218.6 C1136 222.8 1136.3 228 1135.9 232.7 C1135.5 237.4 1134.3 242.5 1133.3 246.8 C1132.3 251.1 1131.9 256.6 1129.8 258.6 C1127.7 260.6 1122.2 261.4 1120.9 258.6 C1119.6 255.8 1121.6 248.1 1121.7 242 C1121.8 235.9 1121.9 225.4 1121.5 222 C1121.1 218.6 1119.9 223 1119.5 221.5 C1119.1 220 1119 215 1119.3 213 C1119.5 211 1120.2 210.7 1121 209.5Z" fill="#fff" stroke="#333" stroke-width="0.9" stroke-linejoin="round"/>
<path d="M1129.2 217.4 C1128.4 217.6 1127.1 222.4 1126.6 225 C1126.1 227.6 1126.2 229.7 1126.2 232.7 C1126.2 235.7 1126.5 239.9 1126.8 243 C1127.1 246.1 1127.3 251.5 1128 251.5 C1128.7 251.5 1130.1 246.1 1130.8 243 C1131.5 239.9 1132 235.9 1132.1 232.7 C1132.2 229.5 1131.7 226.6 1131.2 224 C1130.7 221.4 1130 217.2 1129.2 217.4Z" fill="#fff" stroke="#333" stroke-width="0.8" stroke-linejoin="round"/>
<path d="M1119.2 223.7 C1118.8 225.8 1118 232 1116.8 236.2 C1115.5 240.4 1112.5 246.6 1111.7 248.7" fill="none" stroke="#333" stroke-width="4.2" stroke-linecap="round" stroke-linejoin="round"/><path d="M1119.2 223.7 C1118.8 225.8 1118 232 1116.8 236.2 C1115.5 240.4 1112.5 246.6 1111.7 248.7" fill="none" stroke="#22E6F2" stroke-width="2.4" stroke-linecap="round" stroke-linejoin="round"/>
<path d="M1110.3 250.4 C1111.1 250.6 1112.7 250.6 1112.7 251.5 C1112.7 252.4 1111.6 254.6 1110.3 255.7 C1109 256.8 1106.9 257.8 1105 258 C1103.1 258.2 1099.2 257.1 1099.1 256.8 C1099 256.6 1102.8 257 1104.4 256.5 C1106 256 1108 254.9 1108.6 253.9 C1109.2 252.9 1107.7 251 1108 250.4 C1108.3 249.8 1109.5 250.2 1110.3 250.4Z" fill="#22E6F2" stroke="#333" stroke-width="0.9" stroke-linejoin="round"/>
<path d="M1122.6 260.1 L1120.2 279.1" fill="none" stroke="#333" stroke-width="6.4" stroke-linecap="butt" stroke-linejoin="round"/><path d="M1122.5 261 L1120.3 278.2" fill="none" stroke="#F5A823" stroke-width="4.6" stroke-linecap="butt" stroke-linejoin="round"/>
<path d="M1120.1 279.8 C1119.6 281.4 1118.4 286.1 1117.4 289.2 C1116.4 292.3 1114.7 296.9 1114.2 298.5" fill="none" stroke="#333" stroke-width="4.6" stroke-linecap="round" stroke-linejoin="round"/><path d="M1120.1 279.8 C1119.6 281.4 1118.4 286.1 1117.4 289.2 C1116.4 292.3 1114.7 296.9 1114.2 298.5" fill="none" stroke="#F5A823" stroke-width="2.8" stroke-linecap="round" stroke-linejoin="round"/>
<path d="M1113.3 300.4 C1114 300.5 1115.4 300.6 1115.6 301.6 C1115.8 302.6 1115.5 305 1114.4 306.3 C1113.3 307.6 1110.9 309.6 1109.1 309.5 C1107.2 309.4 1103.4 306 1103.3 305.7 C1103.2 305.4 1107.1 307.7 1108.6 307.5 C1110.1 307.3 1111.6 305.6 1112.1 304.5 C1112.6 303.4 1111.3 301.7 1111.5 301 C1111.7 300.3 1112.6 300.3 1113.3 300.4Z" fill="#F5A823" stroke="#333" stroke-width="0.9" stroke-linejoin="round"/>
<path d="M1127.6 260.8 L1126.3 269.5" fill="none" stroke="#333" stroke-width="4.8" stroke-linecap="round" stroke-linejoin="round"/><path d="M1127.6 260.8 L1126.3 269.5" fill="none" stroke="#F05252" stroke-width="3" stroke-linecap="round" stroke-linejoin="round"/>
<path d="M1126.2 272 C1126.2 272.9 1126.6 274.4 1126.5 277.4 C1126.4 280.4 1125.8 287.7 1125.7 289.8" fill="none" stroke="#333" stroke-width="4" stroke-linecap="round" stroke-linejoin="round"/><path d="M1126.2 272 C1126.2 272.9 1126.6 274.4 1126.5 277.4 C1126.4 280.4 1125.8 287.7 1125.7 289.8" fill="none" stroke="#F05252" stroke-width="2.2" stroke-linecap="round" stroke-linejoin="round"/>
<path d="M1125 291 C1125.8 291.2 1127.3 291.8 1127.4 292.8 C1127.5 293.8 1127 296 1125.6 296.9 C1124.2 297.8 1119.6 298.4 1119.2 298.4 C1118.8 298.4 1122.3 297.6 1123.3 296.9 C1124.3 296.1 1125.1 294.8 1125 293.9 C1124.9 293 1122.7 292.1 1122.7 291.6 C1122.7 291.1 1124.2 290.8 1125 291Z" fill="#F05252" stroke="#333" stroke-width="0.9" stroke-linejoin="round"/>
<path d="M1131.5 318 C1131.8 314.3 1132.2 314.1 1133 313 C1133.8 311.9 1135 311.4 1136 311.5 C1137 311.6 1138.2 312.1 1139 313.5 C1139.8 314.9 1140.1 316.2 1140.8 320 C1141.5 323.8 1142.8 330.4 1143.2 336 C1143.6 341.6 1145.2 350.3 1143.2 353.5 C1141.2 356.7 1133.2 358.1 1131.3 355 C1129.3 351.9 1131.5 341.2 1131.5 335 C1131.5 328.8 1131.2 321.7 1131.5 318Z" fill="#fff" stroke="#333" stroke-width="0.9" stroke-linejoin="round"/>
<path d="M1137.9 317.6 L1138.3 352.4" fill="none" stroke="#333" stroke-width="0.8" stroke-linecap="butt" stroke-linejoin="round"/><path d="M1137.9 318 L1138.3 352" fill="none" stroke="#333" stroke-width="0" stroke-linecap="butt" stroke-linejoin="round"/>
<path d="M1124 331.3 C1122.6 329.5 1123.6 322.8 1123.9 320.5 C1124.2 318.2 1125 318.1 1126 317.6 C1127 317.1 1129 317.1 1130 317.6 C1131 318.1 1131.9 318.2 1132.2 320.5 C1132.5 322.8 1133.5 329.5 1132.1 331.3 C1130.7 333.1 1125.4 333.1 1124 331.3Z" fill="#fff" stroke="#333" stroke-width="0.9" stroke-linejoin="round"/>
<path d="M1127.3 332.6 C1127 335 1126 342.6 1125.4 347.1 C1124.8 351.6 1124.1 357.8 1123.9 359.9" fill="none" stroke="#333" stroke-width="6.4" stroke-linecap="butt" stroke-linejoin="round"/><path d="M1127.2 333.5 C1126.9 335.8 1125.9 342.9 1125.4 347.1 C1124.9 351.4 1124.2 357 1124 359" fill="none" stroke="#22E6F2" stroke-width="4.6" stroke-linecap="butt" stroke-linejoin="round"/>
<path d="M1121.5 359.8 C1122.8 359.9 1125.7 360.4 1126.2 361.8 C1126.7 363.2 1125.7 366 1124.4 368.3 C1123.1 370.6 1120.8 373.8 1118.6 375.4 C1116.4 377 1113.6 377.3 1111.5 377.7 C1109.4 378.1 1106 377.9 1106.2 377.5 C1106.4 377.1 1110.9 376.5 1112.7 375.4 C1114.5 374.3 1115.9 372.3 1116.8 370.7 C1117.7 369.1 1117.7 367.6 1118 366 C1118.3 364.4 1118 362.2 1118.6 361.2 C1119.2 360.2 1120.2 359.7 1121.5 359.8Z" fill="#22E6F2" stroke="#333" stroke-width="0.9" stroke-linejoin="round"/>
<rect x="1131" y="355.4" width="8.8" height="27.6" rx="2" fill="#F5A823" stroke="#333" stroke-width="0.9"/>
<path d="M1131.2 384 L1137.3 384 L1136 400 L1133 413 L1129.3 413 L1130.6 399Z" fill="#F5A823" stroke="#333" stroke-width="0.9" stroke-linejoin="round"/>
<path d="M1129.1 413.5 Q1128.8 418.1 1128.6 422.8 Q1130.8 418.7 1132.9 414.5Z" fill="#F5A823" stroke="#333" stroke-width="0.9" stroke-linejoin="round"/>
<path d="M1141.7 355.5 L1143.7 359.5" fill="none" stroke="#333" stroke-width="5.6" stroke-linecap="round" stroke-linejoin="round"/><path d="M1141.7 355.5 L1143.7 359.5" fill="none" stroke="#F05252" stroke-width="3.8" stroke-linecap="round" stroke-linejoin="round"/>
<path d="M1144.1 362 C1144.3 363.2 1145.2 366.9 1145.6 369.5 C1146 372.1 1146.5 376.2 1146.7 377.5" fill="none" stroke="#333" stroke-width="4.4" stroke-linecap="round" stroke-linejoin="round"/><path d="M1144.1 362 C1144.3 363.2 1145.2 366.9 1145.6 369.5 C1146 372.1 1146.5 376.2 1146.7 377.5" fill="none" stroke="#F05252" stroke-width="2.6" stroke-linecap="round" stroke-linejoin="round"/>
<path d="M1146.9 380.5 C1147.1 382.2 1148.3 387.3 1148.2 390.7 C1148.1 394.1 1146.7 399 1146.4 400.6" fill="none" stroke="#333" stroke-width="4.2" stroke-linecap="round" stroke-linejoin="round"/><path d="M1146.9 380.5 C1147.1 382.2 1148.3 387.3 1148.2 390.7 C1148.1 394.1 1146.7 399 1146.4 400.6" fill="none" stroke="#F05252" stroke-width="2.4" stroke-linecap="round" stroke-linejoin="round"/>
<path d="M1145.6 402.5 C1146.4 402.6 1147.7 403 1148 404.2 C1148.3 405.4 1148 407.7 1147.4 409.5 C1146.8 411.3 1145.6 413.4 1144.5 414.8 C1143.4 416.2 1141 418.2 1140.9 417.8 C1140.8 417.4 1143.2 414.3 1143.9 412.5 C1144.6 410.7 1145.2 408.7 1145.1 407.2 C1145 405.7 1143.2 404.5 1143.3 403.7 C1143.4 402.9 1144.8 402.4 1145.6 402.5Z" fill="#F05252" stroke="#333" stroke-width="0.9" stroke-linejoin="round"/>
<path d="M1183.1 414.4 C1184.5 416.8 1188 426.9 1189.1 432.4 C1190.2 437.9 1190.4 442.3 1189.8 447.3 C1189.2 452.3 1187.2 457.6 1185.3 462.3 C1183.4 467.1 1180 473.8 1178.6 475.8 C1177.2 477.8 1176.2 477 1176.8 474.5 C1177.4 472 1181 465.8 1182.3 460.8 C1183.6 455.8 1184.7 450.1 1184.6 444.4 C1184.5 438.7 1182.3 430.8 1181.6 426.4 C1180.9 422 1180.3 420 1180.6 418 C1180.8 416 1181.7 412 1183.1 414.4Z" fill="#fff" stroke="#333" stroke-width="0.9" stroke-linejoin="round"/>
<path d="M1165.1 418.9 C1165.5 415.6 1166.6 412.8 1168.1 411 C1169.6 409.2 1172 408.4 1174 408.2 C1176 407.9 1178.5 408.5 1180 409.5 C1181.5 410.5 1182.8 411.8 1183.1 414.4 C1183.3 417 1181.8 419.9 1181.5 425 C1181.2 430.1 1181.5 436.8 1181 445 C1180.5 453.2 1180.5 469.2 1178.3 474 C1176.1 478.8 1169.3 478 1168 473.5 C1166.7 469 1170 454.1 1170.3 447 C1170.6 439.9 1170.5 433.7 1169.8 431 C1169.1 428.3 1166.7 432.9 1165.9 430.9 C1165.1 428.9 1164.7 422.2 1165.1 418.9Z" fill="#fff" stroke="#333" stroke-width="0.9" stroke-linejoin="round"/>
<path d="M1166.6 434.5 C1166.5 436.4 1166.8 442 1165.9 445.9 C1165 449.8 1163 454.2 1161.4 457.8 C1159.9 461.4 1157.4 466 1156.6 467.6" fill="none" stroke="#333" stroke-width="4.8" stroke-linecap="round" stroke-linejoin="round"/><path d="M1166.6 434.5 C1166.5 436.4 1166.8 442 1165.9 445.9 C1165 449.8 1163 454.2 1161.4 457.8 C1159.9 461.4 1157.4 466 1156.6 467.6" fill="none" stroke="#22E6F2" stroke-width="3" stroke-linecap="round" stroke-linejoin="round"/>
<path d="M1155.4 469 C1156.2 468.9 1158.2 469.5 1158.4 470.5 C1158.7 471.5 1158.2 473.7 1156.9 475 C1155.7 476.3 1151.5 478.4 1150.9 478.5 C1150.3 478.6 1152.7 477 1153.2 475.8 C1153.7 474.6 1153.5 472.4 1153.9 471.3 C1154.3 470.2 1154.7 469.1 1155.4 469Z" fill="#22E6F2" stroke="#333" stroke-width="0.9" stroke-linejoin="round"/>
<path d="M1180 478 L1177.9 475.8 L1181.6 478 L1183.8 483.2 L1182.3 484.7 L1180.8 481.5Z" fill="#F05252" stroke="#333" stroke-width="0.9" stroke-linejoin="round"/>
<path d="M1166.6 473.5 L1177.9 474.3 L1178.6 499.7 L1176.4 510.9 L1168.1 510.2 L1167.4 492.2Z" fill="#F5A823" stroke="#333" stroke-width="0.9" stroke-linejoin="round"/>
<path d="M1168.6 512.5 L1174 513 L1172.8 530 L1168.3 543 L1165 542.3 L1168.2 529Z" fill="#F5A823" stroke="#333" stroke-width="0.9" stroke-linejoin="round"/>
<path d="M1165.1 543.1 C1166 542.9 1168.5 543.6 1169.2 544.6 C1169.9 545.6 1169.6 547.5 1169.2 549 C1168.8 550.5 1167.6 553.2 1167.1 553.5 C1166.5 553.8 1166.5 551.8 1165.9 550.6 C1165.3 549.4 1163.8 547.4 1163.7 546.1 C1163.6 544.9 1164.2 543.4 1165.1 543.1Z" fill="#F5A823" stroke="#333" stroke-width="0.9" stroke-linejoin="round"/>
<path d="M1185 541 C1185.3 537.8 1186.1 538 1187 537 C1187.9 536 1189.3 535.2 1190.5 535.3 C1191.7 535.4 1193.2 535.4 1194 537.5 C1194.8 539.6 1195.1 543.4 1195.3 548 C1195.5 552.6 1195.7 559.3 1195.4 565 C1195.1 570.7 1194.1 576.9 1193.5 582 C1192.9 587.1 1193.7 593.2 1192 595.5 C1190.3 597.8 1184.5 599.4 1183.3 596 C1182.1 592.6 1184.3 581.7 1184.6 575 C1184.9 568.3 1185.1 561.7 1185.2 556 C1185.3 550.3 1184.7 544.2 1185 541Z" fill="#fff" stroke="#333" stroke-width="0.9" stroke-linejoin="round"/>
<path d="M1190.6 540.6 C1190.6 545.5 1191.1 561 1190.9 570 C1190.7 579 1189.5 590.3 1189.2 594.4" fill="none" stroke="#333" stroke-width="0.8" stroke-linecap="butt" stroke-linejoin="round"/><path d="M1190.6 541 C1190.6 545.8 1191.1 561.2 1190.9 570 C1190.7 578.8 1189.5 590 1189.2 594" fill="none" stroke="#333" stroke-width="0" stroke-linecap="butt" stroke-linejoin="round"/>
<path d="M1182.4 543 L1183.1 554.5" fill="none" stroke="#333" stroke-width="5.4" stroke-linecap="round" stroke-linejoin="round"/><path d="M1182.4 543 L1183.1 554.5" fill="none" stroke="#fff" stroke-width="3.6" stroke-linecap="round" stroke-linejoin="round"/>
<path d="M1184.5 558 C1184.4 560.1 1184.5 566 1183.8 570.4 C1183.1 574.8 1180.9 582.2 1180.3 584.6" fill="none" stroke="#333" stroke-width="4.6" stroke-linecap="round" stroke-linejoin="round"/><path d="M1184.5 558 C1184.4 560.1 1184.5 566 1183.8 570.4 C1183.1 574.8 1180.9 582.2 1180.3 584.6" fill="none" stroke="#22E6F2" stroke-width="2.8" stroke-linecap="round" stroke-linejoin="round"/>
<path d="M1178.6 586.1 C1179.7 586.2 1182 586.2 1182.3 587.6 C1182.5 589 1181.6 592.4 1180.1 594.3 C1178.6 596.2 1175.8 598.1 1173.4 598.8 C1171 599.5 1166 598.9 1165.9 598.5 C1165.8 598.1 1170.8 597.8 1172.6 596.6 C1174.3 595.4 1175.9 592.9 1176.4 591.3 C1176.9 589.7 1175.2 587.7 1175.6 586.8 C1176 585.9 1177.5 586 1178.6 586.1Z" fill="#22E6F2" stroke="#333" stroke-width="0.9" stroke-linejoin="round"/>
<path d="M1190.3 595.3 L1192.4 595.5 L1193.2 602 L1191.2 614.5 L1190.6 605Z" fill="#F05252" stroke="#333" stroke-width="0.9" stroke-linejoin="round"/>
<path d="M1186.5 597.1 L1183.1 627.6" fill="none" stroke="#333" stroke-width="6.8" stroke-linecap="butt" stroke-linejoin="round"/><path d="M1186.4 598 L1183.2 626.7" fill="none" stroke="#F5A823" stroke-width="5" stroke-linecap="butt" stroke-linejoin="round"/>
<path d="M1183.1 626.8 C1183 630.1 1182.8 641.8 1182.3 646.7 C1181.8 651.6 1180.4 654.8 1180 656.5" fill="none" stroke="#333" stroke-width="5.6" stroke-linecap="butt" stroke-linejoin="round"/><path d="M1183.1 627.7 C1183 630.9 1182.8 642.1 1182.3 646.7 C1181.8 651.4 1180.5 654.1 1180.2 655.6" fill="none" stroke="#F5A823" stroke-width="3.8" stroke-linecap="butt" stroke-linejoin="round"/>
<path d="M1179.4 656.4 C1180.3 656.6 1182.2 657.4 1182.6 658.6 C1183 659.9 1182.5 662.4 1181.6 663.9 C1180.7 665.4 1178.6 667.1 1177.1 667.9 C1175.6 668.6 1172.6 668.8 1172.6 668.4 C1172.6 668 1176.1 666.6 1177.1 665.4 C1178.1 664.1 1178.6 662.3 1178.6 660.9 C1178.6 659.5 1177 657.9 1177.1 657.1 C1177.2 656.4 1178.5 656.1 1179.4 656.4Z" fill="#F5A823" stroke="#333" stroke-width="0.9" stroke-linejoin="round"/>
<path d="M1176 693.5 C1176.4 691 1177.1 691 1178 690.3 C1178.9 689.6 1180.3 689.1 1181.5 689.2 C1182.7 689.3 1184 689.2 1185 691 C1186 692.8 1186.9 696 1187.5 700 C1188.1 704 1188.7 708.8 1188.7 715 C1188.7 721.2 1188 731.2 1187.3 737 C1186.6 742.8 1186.4 747.8 1184.5 749.5 C1182.6 751.2 1177.5 752.1 1176 747.5 C1174.5 742.9 1175.4 729.1 1175.3 722 C1175.2 714.9 1175.5 709.8 1175.6 705 C1175.7 700.2 1175.6 696 1176 693.5Z" fill="#fff" stroke="#333" stroke-width="0.9" stroke-linejoin="round"/>
<path d="M1182.8 693.6 C1183 698 1184 711 1183.8 720 C1183.6 729 1181.9 742.8 1181.5 747.4" fill="none" stroke="#333" stroke-width="0.8" stroke-linecap="butt" stroke-linejoin="round"/><path d="M1182.8 694 C1183 698.3 1184 711.2 1183.8 720 C1183.6 728.8 1181.9 742.5 1181.5 747" fill="none" stroke="#333" stroke-width="0" stroke-linecap="butt" stroke-linejoin="round"/>
<path d="M1174.1 697.2 L1174.6 703.6" fill="none" stroke="#333" stroke-width="5" stroke-linecap="round" stroke-linejoin="round"/><path d="M1174.1 697.2 L1174.6 703.6" fill="none" stroke="#fff" stroke-width="3.2" stroke-linecap="round" stroke-linejoin="round"/>
<path d="M1174.6 707.2 C1174.5 709.7 1174.8 716.9 1174.1 722.3 C1173.4 727.7 1171.2 736.7 1170.6 739.6" fill="none" stroke="#333" stroke-width="4.8" stroke-linecap="round" stroke-linejoin="round"/><path d="M1174.6 707.2 C1174.5 709.7 1174.8 716.9 1174.1 722.3 C1173.4 727.7 1171.2 736.7 1170.6 739.6" fill="none" stroke="#22E6F2" stroke-width="3" stroke-linecap="round" stroke-linejoin="round"/>
<path d="M1168.1 741.8 C1169.1 741.9 1171.7 742 1171.9 743.3 C1172.2 744.5 1170.8 747.5 1169.6 749.3 C1168.3 751 1166.3 752.8 1164.4 753.8 C1162.5 754.8 1158.4 755.3 1158.4 755 C1158.4 754.7 1163 753.3 1164.4 752 C1165.8 750.7 1166.4 748.6 1166.6 747 C1166.8 745.4 1165.3 743.4 1165.6 742.5 C1165.8 741.6 1167 741.7 1168.1 741.8Z" fill="#22E6F2" stroke="#333" stroke-width="0.9" stroke-linejoin="round"/>
<path d="M1183.8 750.8 L1185.6 751.5 L1186.1 761.2 L1183.1 765.7 L1180.9 767.2 L1182 762.7 L1182.3 753.8Z" fill="#F05252" stroke="#333" stroke-width="0.9" stroke-linejoin="round"/>
<path d="M1177.6 747.6 L1174.8 768.3" fill="none" stroke="#333" stroke-width="7.4" stroke-linecap="butt" stroke-linejoin="round"/><path d="M1177.5 748.5 L1174.9 767.4" fill="none" stroke="#F5A823" stroke-width="5.6" stroke-linecap="butt" stroke-linejoin="round"/>
<path d="M1175 767.5 C1174.3 769.7 1172.5 776.7 1171.1 780.7 C1169.7 784.7 1167.2 789.6 1166.4 791.3" fill="none" stroke="#333" stroke-width="6.6" stroke-linecap="butt" stroke-linejoin="round"/><path d="M1174.7 768.4 C1174.1 770.5 1172.4 777 1171.1 780.7 C1169.8 784.4 1167.5 788.9 1166.8 790.5" fill="none" stroke="#F5A823" stroke-width="4.8" stroke-linecap="butt" stroke-linejoin="round"/>
<path d="M1164.7 791.9 C1166 792 1169 792.5 1169.2 794.1 C1169.4 795.7 1167.5 799.6 1165.9 801.6 C1164.4 803.6 1162 805.2 1159.9 806.1 C1157.8 807 1153.2 807.3 1153.2 806.9 C1153.2 806.5 1158.2 805.3 1159.9 803.9 C1161.6 802.5 1162.9 800.4 1163.2 798.6 C1163.5 796.9 1161.5 794.5 1161.7 793.4 C1162 792.3 1163.5 791.8 1164.7 791.9Z" fill="#F5A823" stroke="#333" stroke-width="0.9" stroke-linejoin="round"/>
<path d="M1162.5 940.2 L1192.2 935.8 V944.8Z" fill="#128A14"/>
<path d="M1159.9 845.9 C1160.6 844.5 1163.6 843.3 1165.1 842.2 C1166.6 841.1 1167.3 839.6 1168.9 839.2 C1170.5 838.8 1173.3 839.5 1174.9 840 C1176.5 840.5 1177.2 841.7 1178.6 842.2 C1180 842.7 1181.8 842 1183.1 842.9 C1184.4 843.8 1186 845.8 1186.5 847.4 C1187 849 1186.7 851.1 1186.1 852.7 C1185.5 854.3 1183.2 855.8 1183.1 857.2 C1183 858.6 1184.2 859.3 1185.3 860.9 C1186.4 862.5 1188.2 864.4 1189.8 866.9 C1191.4 869.4 1194.1 871.7 1195.1 875.9 C1196 880.1 1195.6 887.3 1195.5 892.3 C1195.4 897.3 1195 902.1 1194.3 905.8 C1193.6 909.5 1192.5 913.2 1191.3 914.7 C1190 916.2 1188.2 915.2 1186.8 914.7 C1185.4 914.2 1184.8 912.4 1183.1 911.7 C1181.4 911 1177.3 911.8 1176.4 910.3 C1175.5 908.8 1177.8 906.5 1177.9 902.8 C1178 899 1177.6 892.8 1177.1 887.8 C1176.6 882.8 1175.7 877.4 1174.9 872.9 C1174.2 868.4 1173.8 863.5 1172.6 860.9 C1171.3 858.3 1168.8 858.5 1167.4 857.2 C1166 856 1165.5 854.5 1164.4 853.4 C1163.3 852.3 1161.5 851.6 1160.7 850.4 C1160 849.1 1159.2 847.3 1159.9 845.9Z" fill="#fff" stroke="#333" stroke-width="0.9" stroke-linejoin="round"/>
<path d="M1183.1 866.9 C1184.3 867.4 1187.8 870.9 1189.1 874.4 C1190.4 877.9 1191 883.8 1191 887.8 C1191 891.8 1189.9 896.3 1189.1 898.3 C1188.3 900.3 1187 900.5 1186.1 899.8 C1185.2 899 1184.4 896.8 1183.8 893.8 C1183.2 890.8 1182.7 885.5 1182.3 881.8 C1181.9 878.1 1181.5 873.9 1181.6 871.4 C1181.7 868.9 1181.8 866.4 1183.1 866.9Z" fill="#fff" stroke="#333" stroke-width="0.8" stroke-linejoin="round"/>
<path d="M1165.9 859.4 L1171.1 860.9 L1172.6 863.6 L1163.7 877.3 L1157.7 881.8 L1155.4 886.3 L1154.7 884.8 L1155.4 880.3 L1160.7 874.4 L1164.4 865.4Z" fill="#22E6F2" stroke="#333" stroke-width="0.9" stroke-linejoin="round"/>
<path d="M1186.8 919.2 L1192.8 915.9 L1195.8 923.7 L1199.1 929 L1196.6 931.9 L1191.3 926.7Z" fill="#F05252" stroke="#333" stroke-width="0.9" stroke-linejoin="round"/>
<path d="M1174.9 913.2 C1175.6 911.7 1176.5 911.4 1177.9 911.4 C1179.3 911.4 1181.7 911.7 1183.1 913.2 C1184.5 914.8 1185.2 918 1186.1 920.7 C1187 923.5 1188 927.1 1188.3 929.7 C1188.5 932.3 1189.1 934.4 1187.6 936.4 C1186.1 938.4 1181.7 941.2 1179.4 941.7 C1177.2 942.2 1174.8 941.4 1174.1 939.4 C1173.3 937.4 1175 932.8 1174.9 929.7 C1174.8 926.6 1173.7 923.5 1173.7 920.7 C1173.7 918 1174.2 914.8 1174.9 913.2Z" fill="#F5A823" stroke="#333" stroke-width="0.9" stroke-linejoin="round"/>
<path d="M1174.1 940.9 C1175.2 940.4 1178.3 942 1179.4 942.9 C1180.5 943.8 1181.1 944.1 1180.6 946.1 C1180.1 948.1 1177.7 952.2 1176.4 955.1 C1175.1 958 1173.8 961.5 1172.6 963.3 C1171.4 965 1170 965.7 1169.2 965.6 C1168.5 965.5 1167.9 964.4 1168.1 962.6 C1168.3 960.9 1169.7 957.9 1170.4 955.1 C1171.2 952.4 1172 948.5 1172.6 946.1 C1173.2 943.7 1173 941.4 1174.1 940.9Z" fill="#F5A823" stroke="#333" stroke-width="0.9" stroke-linejoin="round"/>
</g>
<g id="details" fill="none" stroke="#2a2a2a" stroke-width="0.7" stroke-linecap="round">
<path d="M975 8.5 C977.5 8.4 985.3 8 990 8 C994.7 8 999.7 8.8 1003 8.5 C1006.3 8.2 1008.8 6.4 1010 6"/>
<path d="M1006 13 C1007 12.9 1011.7 11.3 1012 12.5 C1012.3 13.7 1008.7 18.8 1008 20"/>
<path d="M1010 13.5 C1011.7 14.1 1018.7 15.2 1020 17 C1021.3 18.8 1018.3 22.8 1018 24"/>
<path d="M1020 17 C1020.5 16.5 1021.3 13.7 1023 14 C1024.7 14.3 1027.8 17.8 1030 19 C1032.2 20.2 1035 20.7 1036 21"/>
<path d="M1038 27 C1037.7 28.8 1037.2 34.8 1036 38 C1034.8 41.2 1031.8 44.7 1031 46"/>
<path d="M1040 40 C1040.2 43.3 1040.4 53.3 1041 60 C1041.6 66.7 1043.1 76.7 1043.5 80"/>
<path d="M1019 123 C1020.8 124.2 1026 128 1030 130 C1034 132 1039.3 134.2 1043 135 C1046.7 135.8 1050.5 135 1052 135"/>
<path d="M1036.1 138.3 C1036.8 138.1 1038.2 136.7 1040 137 C1041.8 137.3 1045.8 139.5 1047 140"/>
<path d="M1052 143 C1053 143.7 1055.5 146.5 1058 147 C1060.5 147.5 1065.5 146.2 1067 146"/>
<path d="M1053 156 C1053.7 155.3 1056.5 153.5 1057 152 C1057.5 150.5 1056.2 147.8 1056 147"/>
<path d="M1060 185 C1061 182.8 1063.7 176.7 1066 172 C1068.3 167.3 1072.7 159.5 1074 157"/>
<path d="M1022 222 C1025 222.2 1034.5 222 1040 223 C1045.5 224 1051 226.7 1055 228 C1059 229.3 1062.5 230.5 1064 231"/>
<path d="M1061 231.8 C1061.8 231.9 1064.7 231.5 1066 232.5 C1067.3 233.5 1068.5 237.1 1069 238"/>
<path d="M1075.2 242.5 C1074.8 243.4 1072.7 246.8 1073 248 C1073.3 249.2 1075.7 250.3 1077 250 C1078.3 249.7 1080.5 247.5 1081 246 C1081.5 244.5 1080.2 241.8 1080 241"/>
<path d="M1030 284 C1032.5 282.5 1040 278.7 1045 275 C1050 271.3 1056.2 265 1060 262 C1063.8 259 1066.7 257.8 1068 257"/>
<path d="M1005 328.3 C1007.5 328.2 1015.3 327.9 1020 328 C1024.7 328.1 1030.8 328.8 1033 329"/>
<path d="M1065.7 349.9 C1068.3 351 1077.6 354.1 1081.6 356.8 C1085.6 359.5 1088.3 364.3 1089.6 365.8"/>
<path d="M1077.7 362.8 C1079 363 1083.1 362.6 1085.6 363.8 C1088.1 365 1091.4 368.8 1092.6 369.8"/>
<path d="M1089.6 369.8 C1088.3 371.8 1084.9 377.2 1081.6 381.8 C1078.3 386.4 1071.7 395.1 1069.7 397.7"/>
<path d="M1080.6 389.7 C1079.4 391.2 1076 395.8 1073.7 398.7 C1071.4 401.6 1068.1 405.6 1067 407"/>
<path d="M1047 402 C1048.2 403 1051.7 406.6 1054 408 C1056.3 409.4 1059.8 410.1 1061 410.5"/>
<path d="M1035 430 C1038.3 429.9 1049.2 429.3 1055 429.3 C1060.8 429.3 1067.5 429.9 1070 430"/>
<path d="M1109.6 447.6 C1112.2 449.9 1121.8 458.2 1125.5 461.5 C1129.2 464.8 1130.5 466.5 1131.5 467.5"/>
<path d="M1113.5 453.5 C1114.8 454.6 1118.3 457.7 1121 460 C1123.7 462.3 1128.1 466.2 1129.5 467.5"/>
<path d="M1122.5 470.5 C1123.2 470 1125.5 468.2 1127 467.5 C1128.5 466.8 1130.8 466.7 1131.5 466.5"/>
<path d="M1131.5 467.5 C1131.8 468.8 1132.3 472.7 1133 475 C1133.7 477.3 1135.1 480.4 1135.5 481.5"/>
<path d="M1138 484 C1136 486.7 1129.8 494.7 1126 500 C1122.2 505.3 1116.8 513.3 1115 516"/>
<path d="M1084 513 C1085.8 513.6 1091 515.6 1095 516.5 C1099 517.4 1105.8 518.2 1108 518.5"/>
<path d="M1040 556 C1043.7 555.6 1055.3 553.7 1062 553.5 C1068.7 553.3 1075.3 554.1 1080 555 C1084.7 555.9 1088.3 558.3 1090 559"/>
<path d="M1092 563 C1092.8 562.5 1095.7 560 1097 560 C1098.3 560 1099 561.7 1100 563 C1101 564.3 1101.5 567 1103 568 C1104.5 569 1108 568.8 1109 569"/>
<path d="M1109.6 569.1 C1110.7 569.6 1114.6 570.5 1116 572 C1117.4 573.5 1118.3 576.2 1118 578 C1117.7 579.8 1115.8 582 1114 583 C1112.2 584 1108.2 583.8 1107 584"/>
<path d="M1124 562 C1124.7 563.7 1126.3 568.8 1128 572 C1129.7 575.2 1133 579.5 1134 581"/>
<path d="M1114 605 C1115.7 604.2 1121 602 1124 600 C1127 598 1129.8 594.8 1132 593 C1134.2 591.2 1136.2 589.7 1137 589"/>
<path d="M1118 612 L1121 609"/>
<path d="M1042 692.5 C1045.8 692.3 1058.3 691.6 1065 691.5 C1071.7 691.4 1079.2 691.9 1082 692"/>
<path d="M1102 692 L1104 700"/>
<path d="M1118.5 695.5 C1119.1 695.2 1120.8 693.4 1122 693.5 C1123.2 693.6 1125 694.6 1125.5 696 C1126 697.4 1126.1 700.1 1125 702 C1123.9 703.9 1121 706.3 1119 707.5 C1117 708.7 1114.6 709.2 1113 709 C1111.4 708.8 1110.1 706.5 1109.5 706"/>
<path d="M1117 712 C1115.8 714.3 1112.8 721.2 1110 726 C1107.2 730.8 1103 736.3 1100 741 C1097 745.7 1094.8 749.8 1092 754 C1089.2 758.2 1084.5 764 1083 766"/>
<path d="M1058 776 C1060 775.3 1066.3 773.3 1070 772 C1073.7 770.7 1078.3 768.7 1080 768"/>
<path d="M1052 887 C1055.8 886.3 1067.8 884 1075 883 C1082.2 882 1091.7 881.3 1095 881"/>
<path d="M1105.5 878 L1104 884"/>
<path d="M1127 872 C1127.5 872.8 1129.8 874.7 1130 877 C1130.2 879.3 1129.2 883.7 1128 886 C1126.8 888.3 1124.8 890.2 1123 891 C1121.2 891.8 1118 891 1117 891"/>
<path d="M1123 892 C1122.5 893.8 1121.3 899 1120 903 C1118.7 907 1115.8 913.8 1115 916"/>
<path d="M1117 905 C1115.7 908.3 1111.3 919.2 1109 925 C1106.7 930.8 1104 937.5 1103 940"/>
<path d="M1082 957 C1083.7 956 1089 953.2 1092 951 C1095 948.8 1098.7 945.2 1100 944"/>
</g>
</svg></body></html>
